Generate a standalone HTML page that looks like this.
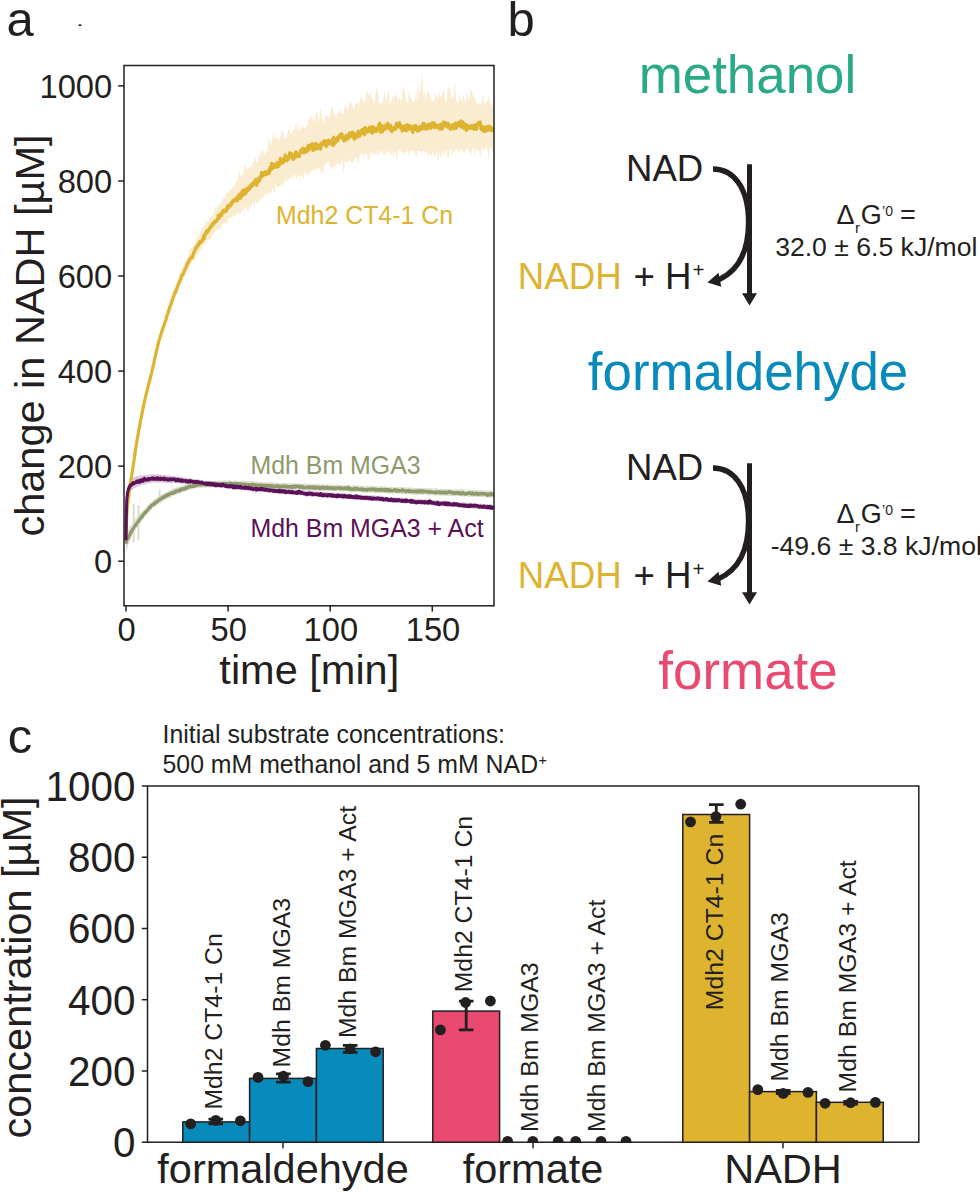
<!DOCTYPE html>
<html><head><meta charset="utf-8"><title>figure</title>
<style>
html,body{margin:0;padding:0;background:#fff;}
svg{display:block;font-family:"Liberation Sans",sans-serif;}
</style></head><body>
<svg width="980" height="1193" viewBox="0 0 980 1193">
<rect width="980" height="1193" fill="#fff"/>
<clipPath id="ca"><rect x="124.0" y="65.5" width="370.0" height="540.3"/></clipPath>
<g clip-path="url(#ca)">
<polygon points="126.0,540.4 126.6,518.8 127.2,507.8 127.8,500.2 128.5,495.6 129.1,490.7 129.7,487.7 130.3,481.4 130.9,478.4 131.5,474.2 132.1,470.5 133.3,462.7 134.5,454.8 135.8,445.6 137.0,439.1 138.2,431.1 139.4,423.4 140.6,418.0 141.8,409.8 143.0,404.6 144.2,398.1 145.4,394.9 146.6,388.3 147.8,384.5 149.0,379.7 150.3,374.7 151.5,366.6 152.7,364.2 153.9,359.5 155.1,354.0 156.3,346.6 157.5,342.6 158.7,336.9 159.9,332.7 161.1,328.5 162.3,325.2 163.6,322.6 164.8,317.3 166.0,313.9 167.2,310.8 168.4,307.0 169.6,303.5 170.8,297.9 172.0,296.5 173.2,290.6 174.4,286.9 175.6,284.9 176.9,283.1 178.1,278.9 179.3,273.0 180.5,272.5 181.7,268.5 182.9,268.0 184.1,264.0 185.3,262.1 186.5,258.3 187.7,257.1 188.9,253.1 190.1,248.8 191.4,248.3 192.6,247.2 193.8,244.3 195.0,243.1 196.2,238.0 197.4,237.6 198.6,236.7 199.8,232.6 201.0,229.9 202.2,227.4 203.4,227.1 204.7,225.7 205.9,219.5 207.1,222.6 208.3,222.1 209.5,216.4 210.7,216.6 211.9,216.0 213.1,213.9 214.3,212.4 215.5,205.6 216.7,207.9 218.0,206.5 219.2,204.5 220.4,203.7 221.6,201.6 222.8,195.9 224.0,199.5 225.2,196.1 226.4,191.3 227.6,192.3 228.8,193.9 230.0,189.5 231.2,189.8 232.5,184.9 233.7,188.8 234.9,184.6 236.1,179.6 237.3,182.9 238.5,174.1 239.7,170.4 240.9,178.5 242.1,173.4 243.3,176.2 244.5,161.9 245.8,169.0 247.0,168.7 248.2,170.0 249.4,166.7 250.6,167.6 251.8,166.1 253.0,161.4 254.2,161.5 255.4,156.6 256.6,162.2 257.8,161.4 259.1,152.7 260.3,157.4 261.5,151.7 262.7,149.6 263.9,154.5 265.1,154.3 266.3,149.4 267.5,152.0 268.7,136.4 269.9,142.1 271.1,147.0 272.3,132.3 273.6,141.3 274.8,133.3 276.0,140.1 277.2,138.5 278.4,138.2 279.6,142.4 280.8,130.5 282.0,132.0 283.2,129.6 284.4,139.7 285.6,137.3 286.9,137.5 288.1,130.3 289.3,128.6 290.5,132.4 291.7,135.7 292.9,129.1 294.1,129.9 295.3,124.0 296.5,123.6 297.7,131.9 298.9,124.8 300.2,132.0 301.4,125.9 302.6,128.3 303.8,125.8 305.0,129.7 306.2,126.1 307.4,126.1 308.6,116.6 309.8,120.7 311.0,113.1 312.2,120.6 313.4,116.9 314.7,122.3 315.9,112.9 317.1,112.0 318.3,121.9 319.5,117.9 320.7,108.0 321.9,116.2 323.1,121.8 324.3,121.0 325.5,114.8 326.7,116.9 328.0,115.8 329.2,118.7 330.4,110.0 331.6,108.6 332.8,107.1 334.0,113.8 335.2,115.1 336.4,116.9 337.6,112.9 338.8,111.8 340.0,110.3 341.3,112.7 342.5,113.6 343.7,114.3 344.9,103.8 346.1,107.8 347.3,110.0 348.5,108.1 349.7,100.5 350.9,104.0 352.1,103.4 353.3,110.4 354.5,106.5 355.8,104.0 357.0,103.1 358.2,101.9 359.4,105.7 360.6,95.7 361.8,97.7 363.0,100.7 364.2,103.7 365.4,99.8 366.6,90.3 367.8,93.5 369.1,96.3 370.3,91.0 371.5,98.7 372.7,96.6 373.9,105.5 375.1,97.7 376.3,90.1 377.5,85.6 378.7,102.5 379.9,104.3 381.1,102.4 382.3,104.2 383.6,96.5 384.8,90.4 386.0,102.8 387.2,95.3 388.4,88.9 389.6,99.4 390.8,103.5 392.0,100.2 393.2,94.8 394.4,97.8 395.6,94.5 396.9,95.5 398.1,101.9 399.3,96.3 400.5,100.3 401.7,100.4 402.9,84.4 404.1,90.3 405.3,94.9 406.5,102.4 407.7,103.0 408.9,89.3 410.2,98.6 411.4,95.8 412.6,101.9 413.8,101.8 415.0,99.7 416.2,91.4 417.4,102.1 418.6,81.2 419.8,95.5 421.0,83.2 422.2,70.8 423.4,96.8 424.7,89.0 425.9,101.2 427.1,90.4 428.3,92.5 429.5,90.7 430.7,100.0 431.9,101.0 433.1,101.0 434.3,101.2 435.5,94.0 436.7,96.5 438.0,99.8 439.2,92.0 440.4,97.1 441.6,95.6 442.8,91.8 444.0,90.3 445.2,101.0 446.4,102.3 447.6,90.1 448.8,86.5 450.0,89.1 451.3,98.4 452.5,95.6 453.7,99.3 454.9,79.0 456.1,100.7 457.3,102.5 458.5,102.4 459.7,93.5 460.9,100.9 462.1,101.8 463.3,92.8 464.5,100.6 465.8,103.7 467.0,90.4 468.2,99.1 469.4,100.8 470.6,88.5 471.8,90.9 473.0,96.3 474.2,96.9 475.4,99.2 476.6,104.1 477.8,103.4 479.1,103.2 480.3,103.8 481.5,105.2 482.7,93.3 483.9,101.4 485.1,105.6 486.3,101.5 487.5,101.3 488.7,93.7 489.9,102.6 491.1,106.3 492.4,104.3 493.6,98.5 493.6,153.7 492.4,149.0 491.1,148.5 489.9,146.6 488.7,159.3 487.5,149.8 486.3,146.3 485.1,149.2 483.9,148.2 482.7,150.8 481.5,148.1 480.3,157.8 479.1,151.0 477.8,149.7 476.6,148.7 475.4,155.5 474.2,148.5 473.0,147.3 471.8,150.1 470.6,155.8 469.4,152.6 468.2,149.3 467.0,149.1 465.8,149.7 464.5,153.4 463.3,150.9 462.1,151.8 460.9,148.2 459.7,152.1 458.5,153.4 457.3,148.6 456.1,150.2 454.9,150.5 453.7,152.0 452.5,155.2 451.3,149.6 450.0,148.9 448.8,157.3 447.6,158.2 446.4,150.0 445.2,150.6 444.0,155.8 442.8,152.2 441.6,156.0 440.4,157.2 439.2,150.9 438.0,163.3 436.7,149.8 435.5,154.4 434.3,158.0 433.1,150.4 431.9,155.0 430.7,155.9 429.5,152.2 428.3,157.8 427.1,150.3 425.9,151.6 424.7,152.8 423.4,150.6 422.2,152.9 421.0,151.4 419.8,150.8 418.6,150.7 417.4,152.0 416.2,158.9 415.0,152.6 413.8,152.0 412.6,150.3 411.4,150.4 410.2,151.0 408.9,156.5 407.7,150.3 406.5,152.9 405.3,151.4 404.1,155.4 402.9,152.0 401.7,152.4 400.5,150.9 399.3,150.9 398.1,150.5 396.9,161.7 395.6,151.7 394.4,153.5 393.2,157.6 392.0,150.4 390.8,157.7 389.6,150.1 388.4,151.4 387.2,153.1 386.0,151.4 384.8,155.4 383.6,154.2 382.3,151.2 381.1,151.6 379.9,150.9 378.7,153.7 377.5,156.2 376.3,150.9 375.1,154.9 373.9,154.3 372.7,151.5 371.5,155.6 370.3,152.3 369.1,162.0 367.8,159.0 366.6,152.4 365.4,152.9 364.2,158.9 363.0,153.6 361.8,153.9 360.6,153.9 359.4,156.2 358.2,164.6 357.0,159.3 355.8,157.1 354.5,159.6 353.3,162.9 352.1,161.0 350.9,164.0 349.7,157.8 348.5,162.2 347.3,162.3 346.1,162.7 344.9,160.1 343.7,172.4 342.5,165.3 341.3,160.2 340.0,165.9 338.8,164.0 337.6,163.6 336.4,163.6 335.2,167.0 334.0,165.7 332.8,168.9 331.6,166.6 330.4,171.4 329.2,162.2 328.0,163.1 326.7,162.8 325.5,164.2 324.3,164.9 323.1,173.0 321.9,173.1 320.7,170.3 319.5,169.4 318.3,167.0 317.1,169.0 315.9,168.5 314.7,169.7 313.4,170.5 312.2,168.9 311.0,173.1 309.8,171.7 308.6,173.9 307.4,176.6 306.2,175.1 305.0,170.4 303.8,179.5 302.6,176.5 301.4,174.8 300.2,180.5 298.9,172.8 297.7,177.5 296.5,178.3 295.3,174.4 294.1,175.1 292.9,180.4 291.7,175.9 290.5,179.1 289.3,177.6 288.1,180.2 286.9,181.7 285.6,179.8 284.4,181.2 283.2,183.8 282.0,187.9 280.8,184.0 279.6,186.3 278.4,187.6 277.2,186.9 276.0,184.6 274.8,192.6 273.6,190.4 272.3,187.4 271.1,194.1 269.9,193.8 268.7,191.4 267.5,194.8 266.3,194.4 265.1,193.1 263.9,195.9 262.7,197.0 261.5,200.2 260.3,197.7 259.1,201.7 257.8,203.2 256.6,202.7 255.4,200.8 254.2,207.0 253.0,201.4 251.8,204.2 250.6,208.8 249.4,203.9 248.2,214.0 247.0,209.0 245.8,206.5 244.5,207.6 243.3,211.8 242.1,209.8 240.9,213.1 239.7,215.6 238.5,211.6 237.3,213.4 236.1,214.6 234.9,216.4 233.7,214.4 232.5,217.8 231.2,216.9 230.0,217.9 228.8,218.3 227.6,221.1 226.4,224.8 225.2,223.8 224.0,222.8 222.8,223.9 221.6,226.6 220.4,229.4 219.2,230.1 218.0,228.9 216.7,230.2 215.5,230.9 214.3,233.0 213.1,234.2 211.9,236.8 210.7,238.1 209.5,239.6 208.3,241.1 207.1,240.5 205.9,244.0 204.7,243.6 203.4,244.9 202.2,248.5 201.0,249.4 199.8,250.1 198.6,255.3 197.4,254.2 196.2,256.0 195.0,257.3 193.8,261.3 192.6,260.7 191.4,263.5 190.1,265.8 188.9,268.7 187.7,271.6 186.5,271.7 185.3,276.0 184.1,276.4 182.9,279.7 181.7,284.1 180.5,285.1 179.3,287.5 178.1,290.5 176.9,293.2 175.6,296.5 174.4,299.6 173.2,302.7 172.0,305.9 170.8,309.2 169.6,312.8 168.4,316.6 167.2,320.2 166.0,323.8 164.8,328.0 163.6,330.4 162.3,335.2 161.1,337.9 159.9,341.1 158.7,346.8 157.5,350.4 156.3,355.3 155.1,361.6 153.9,366.6 152.7,371.5 151.5,376.7 150.3,381.4 149.0,386.2 147.8,390.3 146.6,395.7 145.4,400.1 144.2,405.4 143.0,412.3 141.8,416.9 140.6,423.4 139.4,429.0 138.2,435.7 137.0,443.1 135.8,450.3 134.5,459.2 133.3,466.4 132.1,474.4 131.5,478.3 130.9,482.2 130.3,485.7 129.7,491.3 129.1,494.2 128.5,498.5 127.8,503.5 127.2,510.3 126.6,521.6 126.0,542.1" fill="#FAECD1" opacity="1"/>
<polygon points="126.0,533.5 126.6,533.0 127.2,531.9 127.8,530.3 128.5,529.4 129.1,528.8 129.7,527.1 130.3,525.4 130.9,525.9 131.5,525.1 132.1,524.2 133.3,521.7 134.5,520.8 135.8,518.3 137.0,517.1 138.2,516.1 139.4,514.7 140.6,513.1 141.8,511.6 143.0,510.2 144.2,509.2 145.4,508.3 146.6,506.9 147.8,505.2 149.0,504.1 150.3,503.1 151.5,502.0 152.7,500.9 153.9,499.7 155.1,499.1 156.3,497.9 157.5,497.1 158.7,496.3 159.9,495.8 161.1,494.9 162.3,494.2 163.6,493.7 164.8,492.8 166.0,492.4 167.2,491.7 168.4,490.9 169.6,490.4 170.8,490.0 172.0,489.1 173.2,488.2 174.4,487.8 175.6,488.1 176.9,487.6 178.1,486.7 179.3,486.8 180.5,486.1 181.7,486.0 182.9,485.5 184.1,485.0 185.3,484.3 186.5,484.0 187.7,484.0 188.9,483.6 190.1,483.5 191.4,483.1 192.6,482.7 193.8,482.5 195.0,482.2 196.2,481.8 197.4,481.9 198.6,481.5 199.8,481.4 201.0,481.7 202.2,481.4 203.4,481.5 204.7,481.5 205.9,481.3 207.1,480.9 208.3,481.0 209.5,481.2 210.7,480.4 211.9,480.9 213.1,481.2 214.3,480.9 215.5,480.3 216.7,481.0 218.0,480.9 219.2,480.6 220.4,480.8 221.6,480.7 222.8,480.8 224.0,480.2 225.2,480.3 226.4,480.7 227.6,480.6 228.8,480.1 230.0,480.6 231.2,480.8 232.5,480.7 233.7,480.7 234.9,480.8 236.1,480.3 237.3,480.9 238.5,480.8 239.7,481.0 240.9,480.9 242.1,481.0 243.3,480.3 244.5,480.8 245.8,481.2 247.0,481.0 248.2,480.7 249.4,481.5 250.6,480.9 251.8,481.3 253.0,481.3 254.2,481.6 255.4,481.8 256.6,481.2 257.8,481.9 259.1,481.5 260.3,482.0 261.5,482.2 262.7,482.2 263.9,482.3 265.1,482.2 266.3,482.3 267.5,481.9 268.7,482.6 269.9,482.0 271.1,482.0 272.3,482.3 273.6,482.6 274.8,482.7 276.0,482.5 277.2,483.0 278.4,483.1 279.6,483.1 280.8,483.2 282.0,483.1 283.2,483.3 284.4,482.9 285.6,483.2 286.9,482.6 288.1,483.4 289.3,483.4 290.5,483.4 291.7,483.3 292.9,483.2 294.1,483.6 295.3,483.4 296.5,483.7 297.7,483.8 298.9,483.2 300.2,483.6 301.4,483.9 302.6,483.8 303.8,483.4 305.0,483.3 306.2,483.8 307.4,483.9 308.6,483.9 309.8,484.0 311.0,483.7 312.2,483.7 313.4,484.0 314.7,484.2 315.9,484.1 317.1,484.2 318.3,484.1 319.5,483.7 320.7,484.4 321.9,484.0 323.1,484.4 324.3,484.5 325.5,484.6 326.7,484.1 328.0,484.7 329.2,484.2 330.4,484.6 331.6,484.5 332.8,484.5 334.0,484.8 335.2,484.8 336.4,484.3 337.6,484.8 338.8,485.1 340.0,485.0 341.3,485.2 342.5,485.0 343.7,485.3 344.9,484.9 346.1,485.2 347.3,485.3 348.5,485.3 349.7,485.0 350.9,485.5 352.1,485.5 353.3,485.6 354.5,485.2 355.8,485.1 357.0,485.7 358.2,485.4 359.4,485.2 360.6,485.8 361.8,485.9 363.0,485.7 364.2,486.0 365.4,485.9 366.6,485.9 367.8,485.9 369.1,486.2 370.3,485.9 371.5,485.4 372.7,486.0 373.9,486.3 375.1,486.2 376.3,486.2 377.5,486.1 378.7,486.4 379.9,486.7 381.1,486.4 382.3,486.4 383.6,486.6 384.8,486.1 386.0,486.4 387.2,486.8 388.4,487.0 389.6,487.0 390.8,486.4 392.0,487.0 393.2,486.9 394.4,487.0 395.6,487.3 396.9,487.0 398.1,487.2 399.3,487.2 400.5,487.0 401.7,487.2 402.9,487.0 404.1,487.5 405.3,487.2 406.5,487.5 407.7,487.4 408.9,487.6 410.2,487.8 411.4,487.0 412.6,487.7 413.8,487.8 415.0,488.0 416.2,488.0 417.4,487.7 418.6,488.0 419.8,487.6 421.0,488.2 422.2,488.3 423.4,488.3 424.7,487.9 425.9,488.3 427.1,488.2 428.3,488.1 429.5,488.3 430.7,487.8 431.9,488.4 433.1,488.6 434.3,488.7 435.5,488.1 436.7,488.5 438.0,488.9 439.2,488.8 440.4,488.7 441.6,488.9 442.8,489.0 444.0,489.0 445.2,489.1 446.4,489.2 447.6,488.8 448.8,489.3 450.0,489.0 451.3,489.0 452.5,489.4 453.7,489.3 454.9,489.1 456.1,489.5 457.3,489.2 458.5,489.3 459.7,488.9 460.9,489.0 462.1,489.7 463.3,489.6 464.5,489.9 465.8,489.9 467.0,489.4 468.2,489.5 469.4,489.7 470.6,490.1 471.8,489.7 473.0,490.2 474.2,490.0 475.4,490.2 476.6,490.1 477.8,490.4 479.1,490.3 480.3,490.3 481.5,489.7 482.7,490.3 483.9,490.4 485.1,490.6 486.3,490.7 487.5,490.4 488.7,490.6 489.9,490.6 491.1,490.8 492.4,490.5 493.6,490.5 493.6,497.7 492.4,497.6 491.1,497.5 489.9,497.8 488.7,497.5 487.5,497.6 486.3,497.5 485.1,497.5 483.9,497.5 482.7,497.3 481.5,497.1 480.3,497.1 479.1,497.1 477.8,497.0 476.6,497.2 475.4,497.0 474.2,497.1 473.0,496.8 471.8,497.0 470.6,496.9 469.4,496.9 468.2,496.7 467.0,496.8 465.8,496.5 464.5,496.8 463.3,496.5 462.1,496.4 460.9,496.3 459.7,496.4 458.5,496.2 457.3,496.1 456.1,496.3 454.9,496.2 453.7,496.0 452.5,496.1 451.3,496.3 450.0,495.9 448.8,495.9 447.6,495.8 446.4,496.0 445.2,495.8 444.0,495.6 442.8,495.6 441.6,495.8 440.4,495.7 439.2,495.6 438.0,495.5 436.7,495.4 435.5,495.4 434.3,495.3 433.1,495.2 431.9,495.2 430.7,495.2 429.5,495.0 428.3,495.4 427.1,494.9 425.9,494.8 424.7,494.8 423.4,494.9 422.2,494.8 421.0,494.7 419.8,494.7 418.6,495.0 417.4,494.9 416.2,494.7 415.0,494.8 413.8,494.4 412.6,494.4 411.4,494.4 410.2,494.2 408.9,494.2 407.7,494.3 406.5,494.0 405.3,494.1 404.1,494.2 402.9,494.3 401.7,494.0 400.5,493.9 399.3,494.0 398.1,493.8 396.9,493.7 395.6,493.6 394.4,493.7 393.2,494.0 392.0,493.5 390.8,493.4 389.6,493.5 388.4,493.3 387.2,493.5 386.0,493.3 384.8,493.3 383.6,493.2 382.3,493.1 381.1,493.3 379.9,493.5 378.7,493.1 377.5,492.8 376.3,492.8 375.1,493.1 373.9,492.8 372.7,492.9 371.5,492.7 370.3,492.8 369.1,492.5 367.8,492.9 366.6,492.5 365.4,492.8 364.2,492.4 363.0,492.5 361.8,492.3 360.6,492.1 359.4,492.2 358.2,492.1 357.0,492.1 355.8,491.9 354.5,492.2 353.3,492.1 352.1,491.9 350.9,491.8 349.7,491.7 348.5,491.6 347.3,491.7 346.1,491.6 344.9,491.6 343.7,491.7 342.5,491.4 341.3,491.5 340.0,491.3 338.8,491.5 337.6,491.3 336.4,491.3 335.2,491.3 334.0,491.2 332.8,491.1 331.6,491.1 330.4,491.0 329.2,491.0 328.0,491.0 326.7,491.4 325.5,490.8 324.3,491.1 323.1,491.2 321.9,491.1 320.7,490.8 319.5,490.6 318.3,490.7 317.1,490.6 315.9,490.6 314.7,490.4 313.4,490.4 312.2,490.5 311.0,490.3 309.8,490.7 308.6,490.4 307.4,490.2 306.2,490.2 305.0,490.1 303.8,490.1 302.6,490.0 301.4,490.2 300.2,490.4 298.9,490.2 297.7,490.2 296.5,489.8 295.3,489.9 294.1,489.8 292.9,489.9 291.7,489.8 290.5,489.8 289.3,489.8 288.1,489.9 286.9,489.5 285.6,489.5 284.4,489.5 283.2,489.8 282.0,489.4 280.8,489.5 279.6,489.4 278.4,489.2 277.2,489.2 276.0,489.2 274.8,489.1 273.6,489.0 272.3,489.0 271.1,488.8 269.9,488.9 268.7,488.8 267.5,488.8 266.3,489.0 265.1,488.4 263.9,488.6 262.7,488.3 261.5,488.3 260.3,488.1 259.1,488.2 257.8,488.0 256.6,488.3 255.4,488.1 254.2,487.7 253.0,487.8 251.8,487.6 250.6,487.6 249.4,487.6 248.2,487.4 247.0,487.3 245.8,487.6 244.5,487.3 243.3,487.1 242.1,487.1 240.9,487.0 239.7,487.2 238.5,487.0 237.3,487.1 236.1,487.2 234.9,487.0 233.7,487.2 232.5,487.0 231.2,487.1 230.0,487.0 228.8,486.8 227.6,486.8 226.4,486.9 225.2,486.9 224.0,486.8 222.8,487.2 221.6,486.8 220.4,487.2 219.2,486.9 218.0,486.8 216.7,486.9 215.5,487.0 214.3,487.0 213.1,487.1 211.9,487.2 210.7,487.5 209.5,487.2 208.3,487.6 207.1,487.3 205.9,487.4 204.7,487.5 203.4,487.7 202.2,487.7 201.0,487.8 199.8,488.0 198.6,488.1 197.4,488.0 196.2,488.3 195.0,488.5 193.8,488.8 192.6,489.3 191.4,489.5 190.1,489.8 188.9,490.1 187.7,490.7 186.5,490.9 185.3,491.5 184.1,491.8 182.9,492.1 181.7,492.9 180.5,493.1 179.3,493.5 178.1,493.9 176.9,494.5 175.6,494.8 174.4,495.5 173.2,496.0 172.0,496.5 170.8,497.4 169.6,497.7 168.4,498.1 167.2,498.8 166.0,499.5 164.8,500.0 163.6,500.9 162.3,501.6 161.1,502.4 159.9,503.2 158.7,504.2 157.5,505.0 156.3,505.9 155.1,506.4 153.9,507.5 152.7,508.5 151.5,510.0 150.3,510.8 149.0,512.2 147.8,513.4 146.6,514.7 145.4,516.4 144.2,517.8 143.0,519.4 141.8,520.9 140.6,522.6 139.4,524.4 138.2,526.2 137.0,527.8 135.8,529.8 134.5,531.9 133.3,534.0 132.1,536.0 131.5,537.3 130.9,539.0 130.3,540.3 129.7,541.4 129.1,543.4 128.5,544.3 127.8,546.6 127.2,548.2 126.6,549.6 126.0,551.7" fill="#DDE0D2" opacity="1"/>
<line x1="133.6" y1="542.2" x2="133.6" y2="503.7" stroke="#D5D9C6" stroke-width="1.8"/>
<line x1="138.5" y1="539.8" x2="138.5" y2="505.1" stroke="#D5D9C6" stroke-width="1.8"/>
<line x1="159.7" y1="501.8" x2="159.7" y2="489.9" stroke="#D5D9C6" stroke-width="1.8"/>
<polygon points="126.0,534.8 126.6,500.0 127.2,489.7 127.8,485.5 128.5,483.2 129.1,481.6 129.7,480.1 130.3,479.2 130.9,479.0 131.5,477.5 132.1,478.0 133.3,477.5 134.5,476.8 135.8,476.9 137.0,476.1 138.2,476.2 139.4,475.7 140.6,475.1 141.8,475.6 143.0,475.2 144.2,475.5 145.4,475.3 146.6,475.1 147.8,474.9 149.0,474.8 150.3,474.5 151.5,474.6 152.7,474.3 153.9,474.3 155.1,474.4 156.3,474.6 157.5,473.7 158.7,474.5 159.9,474.4 161.1,474.9 162.3,475.0 163.6,475.0 164.8,475.0 166.0,475.0 167.2,475.4 168.4,475.5 169.6,475.6 170.8,475.8 172.0,475.9 173.2,475.8 174.4,476.2 175.6,476.2 176.9,476.2 178.1,476.8 179.3,476.5 180.5,476.8 181.7,476.9 182.9,477.0 184.1,477.4 185.3,477.4 186.5,477.8 187.7,477.7 188.9,478.0 190.1,478.5 191.4,478.6 192.6,478.9 193.8,479.0 195.0,479.1 196.2,479.4 197.4,479.2 198.6,479.3 199.8,479.9 201.0,479.9 202.2,480.3 203.4,480.3 204.7,480.8 205.9,480.7 207.1,480.7 208.3,481.0 209.5,481.3 210.7,481.4 211.9,481.7 213.1,481.2 214.3,481.8 215.5,482.1 216.7,481.9 218.0,482.4 219.2,482.5 220.4,482.3 221.6,482.5 222.8,482.5 224.0,483.1 225.2,483.2 226.4,482.9 227.6,483.3 228.8,482.9 230.0,483.6 231.2,483.5 232.5,483.9 233.7,483.9 234.9,483.9 236.1,484.0 237.3,484.4 238.5,484.6 239.7,484.5 240.9,484.8 242.1,484.9 243.3,484.9 244.5,484.9 245.8,485.3 247.0,485.3 248.2,485.2 249.4,485.3 250.6,485.7 251.8,485.4 253.0,485.7 254.2,485.7 255.4,486.2 256.6,486.3 257.8,485.9 259.1,486.2 260.3,486.5 261.5,486.6 262.7,486.9 263.9,487.0 265.1,486.7 266.3,487.2 267.5,487.1 268.7,487.1 269.9,487.5 271.1,487.6 272.3,487.4 273.6,487.7 274.8,487.9 276.0,488.0 277.2,488.1 278.4,488.2 279.6,488.3 280.8,488.1 282.0,488.6 283.2,488.7 284.4,488.8 285.6,488.4 286.9,489.0 288.1,489.0 289.3,488.9 290.5,488.8 291.7,488.8 292.9,489.3 294.1,489.5 295.3,489.5 296.5,489.7 297.7,490.0 298.9,489.8 300.2,490.1 301.4,490.2 302.6,489.8 303.8,489.8 305.0,490.5 306.2,490.3 307.4,490.6 308.6,490.6 309.8,490.6 311.0,490.7 312.2,491.3 313.4,491.0 314.7,491.4 315.9,490.9 317.1,491.2 318.3,491.7 319.5,491.6 320.7,491.9 321.9,492.0 323.1,491.6 324.3,491.9 325.5,492.3 326.7,492.1 328.0,492.3 329.2,492.5 330.4,492.4 331.6,492.4 332.8,492.8 334.0,492.6 335.2,493.0 336.4,492.7 337.6,493.0 338.8,493.3 340.0,493.2 341.3,493.2 342.5,493.3 343.7,493.3 344.9,493.1 346.1,493.7 347.3,493.8 348.5,493.9 349.7,494.0 350.9,494.0 352.1,494.2 353.3,494.3 354.5,494.3 355.8,494.4 357.0,494.6 358.2,494.3 359.4,494.7 360.6,494.5 361.8,495.0 363.0,494.8 364.2,495.2 365.4,495.2 366.6,495.0 367.8,495.2 369.1,495.3 370.3,495.4 371.5,495.3 372.7,495.6 373.9,495.8 375.1,495.6 376.3,495.7 377.5,495.8 378.7,496.1 379.9,495.6 381.1,495.7 382.3,496.1 383.6,496.4 384.8,496.7 386.0,496.8 387.2,496.9 388.4,496.6 389.6,496.9 390.8,497.1 392.0,497.2 393.2,497.0 394.4,497.4 395.6,496.9 396.9,497.4 398.1,497.7 399.3,497.3 400.5,497.6 401.7,497.6 402.9,497.8 404.1,498.0 405.3,498.3 406.5,498.1 407.7,498.4 408.9,498.4 410.2,498.5 411.4,498.5 412.6,498.6 413.8,498.7 415.0,498.7 416.2,499.0 417.4,499.2 418.6,499.0 419.8,498.6 421.0,499.2 422.2,499.5 423.4,499.6 424.7,499.5 425.9,499.6 427.1,499.6 428.3,499.9 429.5,500.0 430.7,500.0 431.9,500.2 433.1,500.3 434.3,500.1 435.5,500.1 436.7,500.5 438.0,500.2 439.2,500.6 440.4,500.5 441.6,500.9 442.8,500.9 444.0,500.4 445.2,500.9 446.4,501.0 447.6,501.0 448.8,501.4 450.0,501.4 451.3,501.4 452.5,501.6 453.7,501.8 454.9,501.8 456.1,501.9 457.3,502.0 458.5,502.3 459.7,502.3 460.9,502.4 462.1,502.2 463.3,502.1 464.5,502.4 465.8,502.6 467.0,502.8 468.2,503.0 469.4,503.0 470.6,503.1 471.8,502.8 473.0,503.2 474.2,502.7 475.4,503.1 476.6,503.4 477.8,503.7 479.1,503.9 480.3,503.6 481.5,503.7 482.7,504.1 483.9,503.8 485.1,504.3 486.3,504.3 487.5,504.5 488.7,504.5 489.9,504.3 491.1,504.6 492.4,504.7 493.6,504.7 493.6,510.0 492.4,509.9 491.1,509.8 489.9,509.7 488.7,509.7 487.5,509.6 486.3,509.6 485.1,509.3 483.9,509.4 482.7,509.2 481.5,509.2 480.3,509.1 479.1,508.9 477.8,509.0 476.6,508.8 475.4,508.7 474.2,508.5 473.0,508.5 471.8,508.3 470.6,508.4 469.4,508.3 468.2,508.1 467.0,507.9 465.8,507.9 464.5,507.9 463.3,507.7 462.1,507.6 460.9,507.5 459.7,507.4 458.5,507.6 457.3,507.2 456.1,507.2 454.9,506.9 453.7,506.9 452.5,506.9 451.3,506.8 450.0,506.8 448.8,506.7 447.6,506.6 446.4,506.4 445.2,506.3 444.0,506.2 442.8,506.4 441.6,505.9 440.4,505.9 439.2,506.1 438.0,505.7 436.7,505.7 435.5,505.7 434.3,505.5 433.1,505.5 431.9,505.3 430.7,505.3 429.5,505.0 428.3,505.0 427.1,505.0 425.9,505.1 424.7,504.9 423.4,504.6 422.2,504.6 421.0,504.6 419.8,504.5 418.6,504.3 417.4,504.5 416.2,504.1 415.0,504.0 413.8,504.0 412.6,504.0 411.4,503.9 410.2,503.6 408.9,503.6 407.7,503.6 406.5,503.7 405.3,503.4 404.1,503.3 402.9,503.2 401.7,503.0 400.5,503.0 399.3,502.8 398.1,502.8 396.9,502.6 395.6,502.8 394.4,502.5 393.2,502.5 392.0,502.2 390.8,502.2 389.6,502.2 388.4,502.0 387.2,502.0 386.0,501.8 384.8,501.8 383.6,501.7 382.3,501.6 381.1,501.6 379.9,501.4 378.7,501.4 377.5,501.2 376.3,501.3 375.1,501.1 373.9,501.0 372.7,500.8 371.5,501.1 370.3,500.7 369.1,500.7 367.8,500.6 366.6,500.6 365.4,500.3 364.2,500.3 363.0,500.2 361.8,500.1 360.6,500.1 359.4,500.0 358.2,500.0 357.0,499.7 355.8,499.8 354.5,499.6 353.3,499.5 352.1,499.3 350.9,499.3 349.7,499.2 348.5,499.4 347.3,499.0 346.1,499.0 344.9,498.9 343.7,498.7 342.5,498.7 341.3,498.8 340.0,498.5 338.8,498.4 337.6,498.3 336.4,498.5 335.2,498.0 334.0,498.0 332.8,497.9 331.6,497.7 330.4,498.0 329.2,497.6 328.0,497.5 326.7,497.5 325.5,497.5 324.3,497.3 323.1,497.1 321.9,497.1 320.7,496.9 319.5,496.8 318.3,496.9 317.1,496.6 315.9,496.7 314.7,496.6 313.4,496.3 312.2,496.4 311.0,496.2 309.8,496.2 308.6,496.0 307.4,495.9 306.2,495.8 305.0,495.8 303.8,495.9 302.6,495.5 301.4,495.5 300.2,495.3 298.9,495.3 297.7,495.1 296.5,495.0 295.3,494.8 294.1,494.9 292.9,494.8 291.7,494.7 290.5,494.4 289.3,494.4 288.1,494.4 286.9,494.1 285.6,494.3 284.4,493.9 283.2,493.8 282.0,493.7 280.8,493.6 279.6,493.6 278.4,493.6 277.2,493.5 276.0,493.2 274.8,493.1 273.6,493.0 272.3,493.0 271.1,492.8 269.9,492.7 268.7,492.4 267.5,492.5 266.3,492.3 265.1,492.2 263.9,492.0 262.7,491.9 261.5,491.9 260.3,491.9 259.1,491.6 257.8,491.5 256.6,491.4 255.4,491.3 254.2,491.1 253.0,491.1 251.8,491.2 250.6,490.8 249.4,490.6 248.2,490.5 247.0,490.6 245.8,490.4 244.5,490.2 243.3,490.3 242.1,490.0 240.9,490.2 239.7,489.7 238.5,489.7 237.3,489.5 236.1,489.4 234.9,489.3 233.7,489.1 232.5,489.3 231.2,488.9 230.0,488.8 228.8,488.7 227.6,488.5 226.4,488.4 225.2,488.4 224.0,488.1 222.8,488.1 221.6,487.9 220.4,487.7 219.2,487.7 218.0,487.4 216.7,487.4 215.5,487.2 214.3,487.3 213.1,486.9 211.9,486.8 210.7,486.6 209.5,486.4 208.3,486.4 207.1,486.2 205.9,486.1 204.7,486.0 203.4,485.9 202.2,485.8 201.0,485.6 199.8,485.7 198.6,485.4 197.4,485.1 196.2,485.0 195.0,484.9 193.8,484.9 192.6,484.7 191.4,484.6 190.1,484.6 188.9,484.3 187.7,484.4 186.5,484.1 185.3,484.1 184.1,483.8 182.9,483.7 181.7,483.7 180.5,483.8 179.3,483.5 178.1,483.4 176.9,483.3 175.6,483.5 174.4,483.1 173.2,483.0 172.0,483.1 170.8,482.9 169.6,482.9 168.4,482.8 167.2,482.8 166.0,483.0 164.8,482.5 163.6,482.6 162.3,482.7 161.1,482.5 159.9,482.4 158.7,482.5 157.5,482.6 156.3,482.6 155.1,482.3 153.9,482.5 152.7,482.5 151.5,482.8 150.3,483.0 149.0,483.2 147.8,483.6 146.6,483.6 145.4,484.3 144.2,484.4 143.0,484.6 141.8,485.0 140.6,485.4 139.4,486.0 138.2,486.6 137.0,486.8 135.8,487.5 134.5,488.0 133.3,489.0 132.1,489.4 131.5,490.3 130.9,490.8 130.3,491.5 129.7,492.3 129.1,492.9 128.5,494.6 127.8,496.8 127.2,501.2 126.6,510.3 126.0,545.2" fill="#D9C6D8" opacity="1"/>
<polyline points="126.0,541.2 126.1,537.4 126.2,533.7 126.3,530.1 126.4,526.4 126.5,523.2 126.6,520.0 126.7,517.5 126.8,515.3 126.9,513.2 127.0,512.0 127.1,510.4 127.2,509.0 127.3,507.9 127.4,506.6 127.5,505.6 127.6,504.2 127.7,503.2 127.8,502.3 127.9,501.6 128.0,500.7 128.1,499.6 128.2,498.7 128.3,498.1 128.5,497.2 128.6,496.7 128.7,495.9 128.8,495.2 128.9,494.5 129.0,494.0 129.1,493.0 129.2,492.3 129.3,491.9 129.4,491.2 129.5,490.3 129.6,489.7 129.7,489.1 129.8,488.0 129.9,487.3 130.0,486.6 130.1,485.6 130.2,485.0 130.3,484.4 130.4,483.6 130.5,483.0 130.6,482.3 130.7,481.5 130.8,480.9 130.9,480.2 131.0,479.3 131.1,478.7 131.2,478.0 131.3,477.4 131.4,476.8 131.5,476.0 131.6,475.5 131.7,474.7 131.8,474.4 131.9,473.7 132.0,473.2 132.1,472.4 132.4,470.8 132.6,469.1 132.8,467.8 133.1,466.2 133.3,464.7 133.6,463.1 133.8,461.6 134.1,459.8 134.3,458.4 134.5,456.6 134.8,454.9 135.0,453.4 135.3,451.9 135.5,450.3 135.7,448.3 136.0,447.2 136.2,445.2 136.5,443.8 136.7,442.4 136.9,441.1 137.2,439.3 137.4,437.8 137.7,436.8 137.9,435.3 138.2,433.7 138.4,432.5 138.6,430.9 138.9,430.0 139.1,428.5 139.4,427.5 139.6,425.6 139.8,424.7 140.1,423.7 140.3,422.1 140.6,420.8 140.8,419.2 141.0,418.4 141.3,417.1 141.5,415.8 141.8,414.4 142.0,413.5 142.3,412.0 142.5,410.9 142.7,409.9 143.0,408.6 143.2,407.4 143.5,406.4 143.7,404.9 143.9,404.2 144.2,402.6 144.4,401.5 144.7,400.6 144.9,399.7 145.1,398.6 145.4,397.4 145.6,396.4 145.9,395.5 146.1,394.4 146.4,393.7 146.6,392.6 146.8,392.0 147.1,390.6 147.3,389.7 147.6,388.9 147.8,387.6 148.0,386.7 148.3,386.5 148.5,385.0 148.8,384.3 149.0,382.9 149.2,381.6 149.5,381.3 149.7,380.2 150.0,379.3 150.2,378.2 150.5,377.2 150.7,376.1 150.9,375.6 151.2,374.0 151.4,373.6 151.7,372.3 151.9,371.1 152.1,370.2 152.4,369.6 152.6,368.5 152.9,367.5 153.1,366.3 153.3,365.0 153.6,364.5 153.8,363.1 154.1,362.0 154.3,360.9 154.5,359.8 154.8,358.5 155.0,357.6 155.3,356.5 155.5,355.4 155.8,354.0 156.0,353.7 156.2,351.8 156.5,351.0 156.7,349.9 157.0,349.0 157.2,348.1 157.4,346.7 157.7,345.7 157.9,344.3 158.2,343.9 158.4,342.3 158.6,341.6 158.9,340.9 159.1,340.2 159.4,339.4 159.6,338.6 159.9,337.7 160.1,336.9 160.3,336.2 160.6,335.8 160.8,334.7 161.1,334.2 161.3,333.2 161.5,332.0 161.8,331.6 162.0,331.2 162.3,330.8 162.5,330.0 162.7,329.3 163.0,327.9 163.2,327.6 163.5,326.7 163.7,326.1 164.0,325.3 164.2,324.2 164.4,324.1 164.7,323.2 164.9,322.7 165.2,321.5 165.4,321.3 165.6,320.6 165.9,320.0 166.1,319.2 166.4,317.9 166.6,316.5 166.8,316.7 167.1,315.4 167.3,314.8 167.6,314.4 167.8,313.4 168.1,312.7 168.3,312.0 168.5,310.5 168.8,311.0 169.0,309.5 169.3,308.9 169.5,308.4 169.7,307.5 170.0,306.6 170.2,306.1 170.5,305.3 170.7,304.5 170.9,304.7 171.2,302.9 171.4,301.9 171.7,301.6 171.9,300.9 172.2,301.0 172.4,299.8 172.6,299.4 172.9,298.6 173.1,297.3 173.4,297.3 173.6,296.3 173.8,296.3 174.1,295.1 174.3,294.5 174.6,294.2 174.8,293.7 175.0,292.1 175.3,292.8 175.5,292.2 175.8,291.6 176.0,290.3 176.3,289.4 176.5,289.5 176.7,289.3 177.0,288.5 177.2,287.2 177.5,287.4 177.7,285.8 177.9,285.1 178.2,285.0 178.4,284.1 178.7,283.4 178.9,282.5 179.1,282.9 179.4,281.4 179.6,281.5 179.9,281.1 180.1,280.1 180.3,279.7 180.6,279.5 180.8,279.2 181.1,278.3 181.3,276.7 181.6,275.9 181.8,275.9 182.0,275.2 182.3,275.4 182.5,274.7 182.8,274.1 183.0,274.2 183.2,273.7 183.5,272.7 183.7,272.4 184.0,272.3 184.2,271.1 184.4,270.9 184.7,269.7 184.9,269.6 185.2,269.2 185.4,268.4 185.7,268.0 185.9,267.7 186.1,267.0 186.4,265.8 186.6,265.3 186.9,264.5 187.1,265.5 187.3,264.3 187.6,263.8 187.8,263.1 188.1,262.9 188.3,262.5 188.5,261.4 188.8,261.2 189.0,261.5 189.3,259.7 189.5,259.5 189.8,259.9 190.0,258.8 190.2,259.3 190.5,258.0 190.7,258.4 191.0,258.4 191.2,257.9 191.4,257.8 191.7,256.9 191.9,256.7 192.2,256.4 192.4,256.4 192.6,257.7 192.9,254.9 193.1,255.5 193.4,253.7 193.6,252.6 193.9,252.5 194.1,252.3 194.3,251.6 194.6,251.0 194.8,250.7 195.1,250.2 195.3,250.0 195.5,248.3 195.8,248.7 196.0,247.7 196.3,248.0 196.5,247.5 196.7,247.2 197.0,246.4 197.2,245.8 197.5,245.8 197.7,246.1 198.0,245.8 198.2,243.9 198.4,244.9 198.7,244.6 198.9,243.1 199.2,243.1 199.4,243.1 199.6,243.5 199.9,241.3 200.1,242.3 200.4,241.9 200.6,242.1 200.8,242.7 201.1,242.3 201.3,240.8 201.6,240.6 201.8,240.7 202.0,241.1 202.3,241.0 202.5,239.9 202.8,240.4 203.0,238.5 203.3,237.8 203.5,236.0 203.7,236.9 204.0,237.4 204.2,237.1 204.5,238.4 204.7,235.8 204.9,235.0 205.2,233.6 205.4,233.3 205.7,232.8 205.9,232.8 206.1,232.3 206.4,231.5 206.6,233.1 206.9,232.4 207.1,232.9 207.4,230.4 207.6,230.4 207.8,230.6 208.1,231.8 208.3,230.5 208.6,230.5 208.8,229.9 209.0,229.7 209.3,228.8 209.5,229.1 209.8,227.7 210.0,227.8 210.2,227.9 210.5,227.4 210.7,227.3 211.0,225.9 211.2,226.4 211.5,225.6 211.7,225.8 211.9,226.3 212.2,224.0 212.4,225.3 212.7,223.5 212.9,223.4 213.1,224.7 213.4,223.8 213.6,223.1 213.9,223.2 214.1,223.3 214.3,221.6 214.6,222.2 214.8,221.5 215.1,222.1 215.3,221.3 215.6,222.1 215.8,221.3 216.0,220.6 216.3,220.9 216.5,220.9 216.8,221.0 217.0,219.5 217.2,219.0 217.5,219.1 217.7,219.1 218.0,217.5 218.2,215.4 218.4,217.4 218.7,216.4 218.9,216.0 219.2,218.4 219.4,215.8 219.7,216.4 219.9,214.3 220.1,215.6 220.4,215.8 220.6,215.1 220.9,214.6 221.1,215.1 221.3,214.4 221.6,215.5 221.8,214.1 222.1,212.9 222.3,211.5 222.5,212.4 222.8,212.5 223.0,211.4 223.3,211.3 223.5,210.4 223.8,210.7 224.0,211.5 224.2,210.9 224.5,210.7 224.7,210.3 225.0,210.2 225.2,210.9 225.4,211.9 225.7,210.3 225.9,211.4 226.2,209.1 226.4,208.9 226.6,210.3 226.9,207.8 227.1,207.3 227.4,207.8 227.6,206.0 227.8,205.6 228.1,208.4 228.3,205.9 228.6,206.3 228.8,206.1 229.1,205.3 229.3,206.7 229.5,206.3 229.8,206.2 230.0,205.8 230.3,204.8 230.5,205.9 230.7,205.1 231.0,203.1 231.2,203.4 231.5,202.6 231.7,204.6 231.9,203.1 232.2,202.5 232.4,201.8 232.7,202.3 232.9,200.6 233.2,201.5 233.4,201.3 233.6,201.2 233.9,200.3 234.1,201.4 234.4,199.6 234.6,200.2 234.8,200.4 235.1,200.3 235.3,199.6 235.6,198.8 235.8,198.7 236.0,199.1 236.3,198.4 236.5,199.0 236.8,197.6 237.0,198.8 237.3,200.8 237.5,196.9 237.7,198.0 238.0,199.2 238.2,197.9 238.5,198.5 238.7,194.9 238.9,196.5 239.2,198.6 239.4,196.0 239.7,196.9 239.9,194.0 240.1,197.2 240.4,198.3 240.6,195.3 240.9,195.5 241.1,195.3 241.4,197.0 241.6,193.7 241.8,192.0 242.1,195.8 242.3,192.0 242.6,193.7 242.8,190.0 243.0,192.1 243.3,192.8 243.5,191.2 243.8,191.8 244.0,193.0 244.2,191.4 244.5,192.8 244.7,194.3 245.0,189.6 245.2,192.4 245.5,192.6 245.7,191.3 245.9,193.3 246.2,192.8 246.4,191.5 246.7,191.2 246.9,190.3 247.1,188.7 247.4,190.4 247.6,189.0 247.9,188.6 248.1,190.4 248.3,188.5 248.6,189.7 248.8,187.0 249.1,187.4 249.3,187.7 249.5,189.1 249.8,187.1 250.0,187.9 250.3,185.8 250.5,186.6 250.8,187.2 251.0,184.9 251.2,185.0 251.5,186.5 251.7,184.2 252.0,185.9 252.2,185.8 252.4,185.1 252.7,186.0 252.9,185.5 253.2,185.0 253.4,182.8 253.6,182.6 253.9,184.5 254.1,181.9 254.4,183.8 254.6,183.0 254.9,182.1 255.1,182.6 255.3,179.7 255.6,182.2 255.8,183.8 256.1,180.3 256.3,182.4 256.5,182.1 256.8,185.4 257.0,180.2 257.3,180.3 257.5,180.2 257.7,179.8 258.0,178.8 258.2,180.9 258.5,179.5 258.7,181.6 259.0,180.6 259.2,178.2 259.4,178.6 259.7,180.3 259.9,177.5 260.2,177.7 260.4,178.0 260.6,175.9 260.9,176.4 261.1,177.4 261.4,176.3 261.6,172.4 261.8,176.6 262.1,174.2 262.3,173.6 262.6,173.5 262.8,175.8 263.1,174.5 263.3,173.8 263.5,172.8 263.8,174.6 264.0,175.2 264.3,172.3 264.5,172.0 264.7,172.9 265.0,174.1 265.2,172.7 265.5,173.0 265.7,172.0 265.9,174.6 266.2,172.8 266.4,173.0 266.7,174.2 266.9,172.3 267.2,172.4 267.4,172.9 267.6,171.7 267.9,174.0 268.1,172.0 268.4,171.3 268.6,171.3 268.8,170.1 269.1,173.0 269.3,173.3 269.6,170.5 269.8,169.8 270.0,167.0 270.3,168.5 270.5,170.0 270.8,167.3 271.0,169.0 271.3,169.4 271.5,163.4 271.7,166.0 272.0,164.9 272.2,165.1 272.5,163.5 272.7,165.6 272.9,164.4 273.2,167.5 273.4,168.1 273.7,164.4 273.9,164.4 274.1,165.7 274.4,166.2 274.6,166.3 274.9,167.4 275.1,164.3 275.3,165.3 275.6,165.4 275.8,165.5 276.1,164.5 276.3,165.1 276.6,164.6 276.8,167.2 277.0,164.7 277.3,162.3 277.5,165.8 277.8,165.1 278.0,163.5 278.2,163.2 278.5,163.4 278.7,166.3 279.0,163.2 279.2,165.3 279.4,164.6 279.7,162.5 279.9,163.4 280.2,161.7 280.4,158.3 280.7,161.4 280.9,161.4 281.1,163.5 281.4,163.0 281.6,163.4 281.9,162.5 282.1,163.1 282.3,162.4 282.6,161.6 282.8,162.4 283.1,162.7 283.3,162.3 283.5,159.5 283.8,159.7 284.0,158.1 284.3,157.7 284.5,159.4 284.8,157.7 285.0,160.3 285.2,154.8 285.5,156.3 285.7,158.4 286.0,159.8 286.2,157.7 286.4,160.9 286.7,159.4 286.9,157.3 287.2,158.4 287.4,159.2 287.6,157.2 287.9,160.1 288.1,157.9 288.4,158.6 288.6,158.7 288.9,156.4 289.1,158.0 289.3,153.5 289.6,156.6 289.8,152.5 290.1,156.4 290.3,153.6 290.5,155.7 290.8,156.1 291.0,154.3 291.3,153.8 291.5,156.9 291.7,153.7 292.0,156.9 292.2,155.9 292.5,155.8 292.7,155.8 293.0,159.6 293.2,155.0 293.4,156.3 293.7,157.4 293.9,157.9 294.2,158.5 294.4,157.7 294.6,154.6 294.9,155.6 295.1,156.4 295.4,155.2 295.6,151.8 295.8,154.2 296.1,154.6 296.3,152.0 296.6,153.4 296.8,154.1 297.0,155.2 297.3,156.8 297.5,156.4 297.8,155.5 298.0,155.3 298.3,154.6 298.5,154.4 298.7,154.5 299.0,154.0 299.2,155.3 299.5,156.5 299.7,153.5 299.9,153.7 300.2,152.7 300.4,151.6 300.7,152.5 300.9,151.8 301.1,149.8 301.4,149.5 301.6,150.9 301.9,149.4 302.1,150.7 302.4,152.1 302.6,150.7 302.8,148.2 303.1,152.2 303.3,149.6 303.6,149.5 303.8,149.6 304.0,153.0 304.3,148.6 304.5,151.3 304.8,151.7 305.0,151.5 305.2,150.1 305.5,150.8 305.7,150.9 306.0,148.6 306.2,151.5 306.5,151.8 306.7,148.8 306.9,148.7 307.2,147.8 307.4,150.8 307.7,147.3 307.9,147.9 308.1,145.7 308.4,150.0 308.6,147.6 308.9,148.0 309.1,149.8 309.3,148.3 309.6,145.3 309.8,147.6 310.1,147.8 310.3,145.2 310.6,144.9 310.8,144.7 311.0,147.2 311.3,146.0 311.5,144.2 311.8,146.6 312.0,146.8 312.2,144.7 312.5,143.8 312.7,148.2 313.0,150.7 313.2,149.2 313.4,148.8 313.7,147.7 313.9,146.8 314.2,148.2 314.4,149.3 314.7,148.0 314.9,149.4 315.1,147.8 315.4,148.5 315.6,143.3 315.9,145.9 316.1,148.2 316.3,148.3 316.6,147.2 316.8,148.8 317.1,147.2 317.3,147.2 317.5,144.9 317.8,146.9 318.0,147.6 318.3,148.5 318.5,148.3 318.8,146.7 319.0,147.0 319.2,145.0 319.5,147.8 319.7,145.3 320.0,146.3 320.2,146.4 320.4,149.2 320.7,147.8 320.9,144.4 321.2,143.1 321.4,144.6 321.6,143.4 321.9,144.9 322.1,144.6 322.4,144.7 322.6,142.1 322.8,143.0 323.1,143.9 323.3,144.0 323.6,142.6 323.8,142.9 324.1,144.6 324.3,140.7 324.5,142.9 324.8,143.3 325.0,141.0 325.3,141.7 325.5,143.3 325.7,142.3 326.0,144.7 326.2,144.0 326.5,146.5 326.7,141.2 326.9,145.8 327.2,141.9 327.4,144.2 327.7,144.3 327.9,143.1 328.2,142.4 328.4,141.9 328.6,140.1 328.9,142.2 329.1,141.4 329.4,143.6 329.6,141.6 329.8,142.4 330.1,143.3 330.3,142.7 330.6,142.6 330.8,142.1 331.0,141.6 331.3,142.9 331.5,143.1 331.8,140.7 332.0,144.3 332.3,142.5 332.5,139.1 332.7,145.4 333.0,142.3 333.2,140.1 333.5,143.6 333.7,137.2 333.9,145.0 334.2,138.9 334.4,138.7 334.7,139.6 334.9,141.3 335.1,140.4 335.4,142.2 335.6,139.6 335.9,142.3 336.1,140.8 336.4,138.6 336.6,141.5 336.8,140.1 337.1,139.0 337.3,141.0 337.6,137.0 337.8,137.9 338.0,140.5 338.3,138.0 338.5,138.8 338.8,138.4 339.0,137.1 339.2,138.0 339.5,135.3 339.7,137.6 340.0,134.8 340.2,136.1 340.5,134.5 340.7,136.4 340.9,136.1 341.2,137.3 341.4,135.1 341.7,135.0 341.9,133.7 342.1,135.4 342.4,137.4 342.6,138.5 342.9,138.1 343.1,139.2 343.3,137.4 343.6,138.6 343.8,141.2 344.1,140.7 344.3,137.2 344.5,138.5 344.8,139.0 345.0,136.5 345.3,138.5 345.5,138.0 345.8,138.0 346.0,139.9 346.2,135.3 346.5,138.3 346.7,137.3 347.0,137.5 347.2,135.3 347.4,136.5 347.7,136.3 347.9,138.9 348.2,136.5 348.4,138.5 348.6,135.8 348.9,135.7 349.1,136.2 349.4,132.9 349.6,135.0 349.9,134.7 350.1,135.2 350.3,135.5 350.6,133.5 350.8,133.1 351.1,136.5 351.3,132.8 351.5,133.4 351.8,132.8 352.0,133.7 352.3,136.4 352.5,136.4 352.7,132.1 353.0,134.6 353.2,137.3 353.5,134.8 353.7,136.0 354.0,138.4 354.2,139.2 354.4,138.1 354.7,135.1 354.9,135.4 355.2,135.5 355.4,134.5 355.6,133.9 355.9,137.8 356.1,134.9 356.4,135.5 356.6,135.9 356.8,134.7 357.1,134.0 357.3,134.3 357.6,136.1 357.8,134.7 358.1,131.1 358.3,135.7 358.5,136.7 358.8,133.9 359.0,133.4 359.3,133.7 359.5,136.1 359.7,132.8 360.0,135.1 360.2,135.3 360.5,134.2 360.7,133.1 360.9,131.6 361.2,131.4 361.4,132.0 361.7,130.2 361.9,131.2 362.2,129.6 362.4,132.9 362.6,133.2 362.9,129.7 363.1,133.0 363.4,131.3 363.6,131.1 363.8,131.7 364.1,131.6 364.3,128.9 364.6,134.8 364.8,129.7 365.0,127.6 365.3,131.0 365.5,131.0 365.8,129.8 366.0,128.2 366.3,132.7 366.5,130.7 366.7,131.1 367.0,130.0 367.2,130.6 367.5,129.8 367.7,131.3 367.9,130.5 368.2,131.4 368.4,131.3 368.7,130.4 368.9,130.2 369.1,131.7 369.4,127.4 369.6,129.9 369.9,131.6 370.1,127.8 370.3,130.5 370.6,128.6 370.8,129.5 371.1,129.1 371.3,129.3 371.6,130.4 371.8,129.6 372.0,126.6 372.3,133.1 372.5,129.7 372.8,129.2 373.0,131.5 373.2,132.1 373.5,127.0 373.7,130.9 374.0,127.4 374.2,129.9 374.4,130.7 374.7,130.3 374.9,130.2 375.2,129.5 375.4,130.8 375.7,131.1 375.9,130.7 376.1,128.6 376.4,129.1 376.6,131.4 376.9,130.5 377.1,128.7 377.3,129.8 377.6,129.1 377.8,129.6 378.1,128.2 378.3,127.0 378.5,126.2 378.8,127.7 379.0,124.6 379.3,127.9 379.5,123.0 379.8,126.3 380.0,127.1 380.2,128.6 380.5,132.1 380.7,128.1 381.0,127.7 381.2,125.2 381.4,130.1 381.7,125.3 381.9,128.5 382.2,127.2 382.4,132.0 382.6,128.1 382.9,128.9 383.1,127.4 383.4,128.4 383.6,130.1 383.9,126.9 384.1,127.1 384.3,127.0 384.6,126.2 384.8,125.9 385.1,127.4 385.3,129.2 385.5,129.1 385.8,124.8 386.0,125.6 386.3,126.4 386.5,127.1 386.7,126.4 387.0,126.4 387.2,126.9 387.5,127.4 387.7,123.1 388.0,125.9 388.2,127.1 388.4,128.1 388.7,127.2 388.9,125.2 389.2,125.5 389.4,127.3 389.6,127.2 389.9,128.0 390.1,129.6 390.4,126.3 390.6,128.1 390.8,125.3 391.1,130.4 391.3,129.8 391.6,128.5 391.8,130.1 392.0,131.7 392.3,131.0 392.5,129.4 392.8,129.0 393.0,129.6 393.3,127.9 393.5,127.9 393.7,128.8 394.0,129.2 394.2,129.4 394.5,127.9 394.7,127.0 394.9,127.9 395.2,127.0 395.4,127.8 395.7,129.1 395.9,128.1 396.1,125.1 396.4,125.3 396.6,123.2 396.9,125.3 397.1,124.1 397.4,123.5 397.6,123.9 397.8,126.3 398.1,125.7 398.3,125.3 398.6,126.9 398.8,124.8 399.0,124.0 399.3,126.2 399.5,122.7 399.8,126.4 400.0,126.6 400.2,126.9 400.5,127.9 400.7,126.6 401.0,127.5 401.2,125.4 401.5,127.2 401.7,127.6 401.9,129.1 402.2,131.0 402.4,129.1 402.7,130.3 402.9,127.7 403.1,129.2 403.4,126.7 403.6,128.2 403.9,128.1 404.1,129.0 404.3,129.1 404.6,128.5 404.8,128.1 405.1,130.4 405.3,128.5 405.6,125.3 405.8,129.2 406.0,129.4 406.3,129.9 406.5,130.9 406.8,127.0 407.0,128.5 407.2,128.1 407.5,125.7 407.7,124.7 408.0,129.7 408.2,126.8 408.4,127.4 408.7,127.7 408.9,127.5 409.2,128.2 409.4,125.8 409.7,127.2 409.9,127.6 410.1,126.3 410.4,126.9 410.6,127.7 410.9,128.1 411.1,126.1 411.3,128.1 411.6,129.1 411.8,130.4 412.1,129.8 412.3,131.0 412.5,129.4 412.8,129.2 413.0,132.3 413.3,129.0 413.5,127.8 413.8,128.3 414.0,129.7 414.2,126.2 414.5,128.8 414.7,129.3 415.0,128.9 415.2,127.0 415.4,125.5 415.7,125.4 415.9,127.0 416.2,129.2 416.4,128.6 416.6,129.1 416.9,128.2 417.1,130.8 417.4,128.2 417.6,127.6 417.8,128.9 418.1,128.1 418.3,130.1 418.6,130.9 418.8,129.7 419.1,127.0 419.3,127.2 419.5,129.3 419.8,126.9 420.0,129.1 420.3,126.4 420.5,127.8 420.7,129.1 421.0,126.9 421.2,128.9 421.5,128.8 421.7,129.3 421.9,126.4 422.2,126.6 422.4,126.3 422.7,126.4 422.9,123.4 423.2,125.8 423.4,126.1 423.6,123.5 423.9,123.4 424.1,125.2 424.4,128.5 424.6,127.1 424.8,125.5 425.1,126.6 425.3,124.6 425.6,129.1 425.8,126.3 426.0,128.3 426.3,125.4 426.5,127.4 426.8,125.6 427.0,128.0 427.3,129.0 427.5,128.5 427.7,127.7 428.0,128.2 428.2,124.8 428.5,124.5 428.7,126.0 428.9,127.8 429.2,126.4 429.4,127.1 429.7,123.9 429.9,125.4 430.1,125.1 430.4,126.3 430.6,128.5 430.9,126.6 431.1,127.0 431.4,124.7 431.6,125.1 431.8,126.4 432.1,125.8 432.3,122.9 432.6,126.5 432.8,126.5 433.0,125.4 433.3,126.1 433.5,125.7 433.8,124.2 434.0,122.5 434.2,127.8 434.5,125.4 434.7,125.5 435.0,125.8 435.2,126.2 435.5,126.6 435.7,124.8 435.9,127.1 436.2,126.7 436.4,126.7 436.7,126.7 436.9,127.0 437.1,125.3 437.4,126.7 437.6,126.4 437.9,126.6 438.1,128.0 438.3,127.7 438.6,127.9 438.8,126.1 439.1,127.3 439.3,127.8 439.5,126.1 439.8,125.8 440.0,129.2 440.3,124.3 440.5,126.9 440.8,127.2 441.0,125.6 441.2,127.2 441.5,128.3 441.7,124.4 442.0,129.1 442.2,127.3 442.4,125.6 442.7,128.0 442.9,126.2 443.2,125.1 443.4,121.8 443.6,126.3 443.9,124.7 444.1,123.3 444.4,123.7 444.6,125.4 444.9,123.2 445.1,123.8 445.3,123.4 445.6,122.6 445.8,122.9 446.1,124.0 446.3,124.3 446.5,126.5 446.8,125.3 447.0,124.9 447.3,126.0 447.5,125.5 447.7,127.1 448.0,123.9 448.2,123.3 448.5,127.2 448.7,126.4 449.0,127.5 449.2,125.6 449.4,127.1 449.7,127.9 449.9,128.4 450.2,127.8 450.4,129.3 450.6,126.7 450.9,128.5 451.1,126.6 451.4,127.0 451.6,125.4 451.8,126.9 452.1,125.2 452.3,127.9 452.6,125.5 452.8,126.6 453.1,125.9 453.3,126.0 453.5,124.6 453.8,128.8 454.0,125.3 454.3,127.9 454.5,123.9 454.7,128.4 455.0,126.8 455.2,127.7 455.5,123.0 455.7,127.3 455.9,125.3 456.2,126.2 456.4,128.1 456.7,126.0 456.9,124.6 457.2,125.9 457.4,124.3 457.6,126.2 457.9,125.7 458.1,126.0 458.4,124.8 458.6,122.4 458.8,124.4 459.1,124.4 459.3,125.4 459.6,125.4 459.8,122.0 460.0,125.6 460.3,125.1 460.5,123.8 460.8,124.3 461.0,120.9 461.3,127.2 461.5,123.4 461.7,122.9 462.0,125.6 462.2,125.0 462.5,123.5 462.7,121.9 462.9,125.6 463.2,126.7 463.4,123.3 463.7,122.8 463.9,125.7 464.1,128.7 464.4,123.7 464.6,126.4 464.9,124.7 465.1,126.7 465.3,127.5 465.6,127.9 465.8,125.3 466.1,125.3 466.3,130.4 466.6,128.6 466.8,124.6 467.0,127.6 467.3,129.0 467.5,127.0 467.8,127.1 468.0,127.0 468.2,127.5 468.5,127.2 468.7,127.6 469.0,126.7 469.2,128.5 469.4,127.9 469.7,127.9 469.9,126.0 470.2,127.5 470.4,128.3 470.7,127.6 470.9,128.0 471.1,127.1 471.4,127.7 471.6,125.6 471.9,126.1 472.1,127.9 472.3,128.2 472.6,126.1 472.8,126.4 473.1,127.1 473.3,128.8 473.5,129.1 473.8,125.8 474.0,125.2 474.3,125.2 474.5,128.2 474.8,124.9 475.0,127.2 475.2,125.9 475.5,125.9 475.7,127.6 476.0,127.3 476.2,129.5 476.4,127.8 476.7,128.7 476.9,125.1 477.2,125.3 477.4,123.7 477.6,124.2 477.9,125.2 478.1,123.5 478.4,124.2 478.6,122.4 478.9,122.4 479.1,124.0 479.3,123.0 479.6,123.3 479.8,124.2 480.1,122.9 480.3,122.1 480.5,125.4 480.8,125.8 481.0,128.9 481.3,126.2 481.5,127.0 481.7,129.9 482.0,126.7 482.2,126.6 482.5,128.8 482.7,128.6 483.0,129.8 483.2,127.6 483.4,131.2 483.7,129.8 483.9,126.9 484.2,129.9 484.4,129.6 484.6,130.3 484.9,131.5 485.1,129.7 485.4,128.9 485.6,130.7 485.8,128.6 486.1,127.1 486.3,127.2 486.6,130.7 486.8,129.7 487.0,130.4 487.3,126.5 487.5,127.0 487.8,126.8 488.0,128.9 488.3,129.2 488.5,127.4 488.7,127.2 489.0,128.5 489.2,127.0 489.5,126.1 489.7,126.6 489.9,128.7 490.2,130.4 490.4,128.0 490.7,127.5 490.9,128.4 491.1,128.8 491.4,129.4 491.6,127.6 491.9,128.9 492.1,128.8 492.4,130.6 492.6,130.0 492.8,128.9 493.1,130.5 493.3,130.8 493.6,129.4" fill="none" stroke="#DDB32F" stroke-width="3.2" stroke-linejoin="round"/>
<polyline points="126.0,543.2 126.1,543.1 126.2,542.0 126.3,542.5 126.4,541.5 126.5,541.6 126.6,541.1 126.7,540.5 126.8,540.7 126.9,540.4 127.0,540.8 127.1,540.5 127.2,539.8 127.3,539.2 127.4,539.0 127.5,538.4 127.6,539.0 127.7,538.8 127.8,538.3 127.9,538.4 128.0,538.2 128.1,538.4 128.2,537.4 128.3,537.9 128.5,537.1 128.6,537.6 128.7,536.5 128.8,537.1 128.9,536.1 129.0,536.8 129.1,536.2 129.2,535.3 129.3,535.9 129.4,535.3 129.5,535.3 129.6,535.8 129.7,534.6 129.8,534.3 129.9,534.7 130.0,533.9 130.1,534.2 130.2,534.0 130.3,533.5 130.4,533.5 130.5,532.2 130.6,533.5 130.7,532.4 130.8,532.1 130.9,533.0 131.0,532.7 131.1,531.7 131.2,531.9 131.3,531.4 131.4,530.9 131.5,531.3 131.6,531.4 131.7,531.9 131.8,530.6 131.9,530.8 132.0,530.2 132.1,530.1 132.4,530.3 132.6,528.8 132.8,528.6 133.1,528.4 133.3,528.8 133.6,528.1 133.8,527.8 134.1,527.4 134.3,527.3 134.5,526.3 134.8,526.1 135.0,525.6 135.3,525.6 135.5,524.6 135.7,524.7 136.0,525.4 136.2,524.3 136.5,523.7 136.7,523.0 136.9,523.2 137.2,522.8 137.4,522.7 137.7,521.9 137.9,522.0 138.2,521.7 138.4,521.5 138.6,520.7 138.9,520.8 139.1,520.9 139.4,519.8 139.6,519.9 139.8,519.2 140.1,518.9 140.3,518.3 140.6,518.0 140.8,518.3 141.0,517.8 141.3,518.0 141.5,516.5 141.8,516.7 142.0,516.0 142.3,516.3 142.5,516.7 142.7,515.0 143.0,515.2 143.2,514.9 143.5,514.6 143.7,514.1 143.9,513.8 144.2,514.3 144.4,512.9 144.7,513.3 144.9,513.0 145.1,511.9 145.4,511.9 145.6,512.1 145.9,512.5 146.1,511.4 146.4,511.0 146.6,511.0 146.8,511.2 147.1,510.8 147.3,510.7 147.6,509.9 147.8,509.4 148.0,509.0 148.3,509.4 148.5,508.8 148.8,508.4 149.0,508.5 149.2,508.1 149.5,507.0 149.7,507.5 150.0,507.0 150.2,507.2 150.5,506.8 150.7,507.2 150.9,506.3 151.2,505.7 151.4,505.1 151.7,505.2 151.9,505.2 152.1,505.2 152.4,505.2 152.6,504.9 152.9,504.4 153.1,504.7 153.3,503.9 153.6,504.4 153.8,504.5 154.1,504.1 154.3,504.1 154.5,503.8 154.8,502.7 155.0,503.0 155.3,502.7 155.5,502.2 155.8,502.0 156.0,502.5 156.2,501.6 156.5,501.8 156.7,501.8 157.0,501.4 157.2,502.0 157.4,501.6 157.7,501.1 157.9,500.7 158.2,500.9 158.4,500.6 158.6,500.1 158.9,499.7 159.1,499.8 159.4,499.5 159.6,499.9 159.9,499.7 160.1,499.3 160.3,499.4 160.6,499.3 160.8,498.4 161.1,498.9 161.3,499.0 161.5,498.3 161.8,497.7 162.0,498.2 162.3,497.6 162.5,498.1 162.7,497.9 163.0,497.9 163.2,497.5 163.5,496.6 163.7,497.6 164.0,496.4 164.2,497.3 164.4,496.9 164.7,496.3 164.9,496.3 165.2,496.3 165.4,496.9 165.6,496.0 165.9,496.4 166.1,494.9 166.4,495.8 166.6,495.6 166.8,495.9 167.1,495.6 167.3,495.7 167.6,494.8 167.8,495.1 168.1,494.7 168.3,495.0 168.5,494.8 168.8,494.0 169.0,494.8 169.3,495.0 169.5,494.0 169.7,494.5 170.0,494.1 170.2,493.5 170.5,494.1 170.7,493.3 170.9,493.8 171.2,492.9 171.4,492.8 171.7,493.4 171.9,493.3 172.2,493.4 172.4,492.9 172.6,492.5 172.9,493.4 173.1,492.4 173.4,493.1 173.6,492.9 173.8,493.1 174.1,491.6 174.3,492.2 174.6,492.0 174.8,492.3 175.0,491.5 175.3,492.6 175.5,491.7 175.8,490.8 176.0,491.6 176.3,491.4 176.5,491.0 176.7,491.5 177.0,491.1 177.2,490.7 177.5,490.9 177.7,490.8 177.9,491.0 178.2,490.6 178.4,490.6 178.7,490.0 178.9,490.2 179.1,490.5 179.4,491.2 179.6,489.9 179.9,489.8 180.1,490.3 180.3,490.6 180.6,490.2 180.8,489.3 181.1,489.9 181.3,489.6 181.6,489.2 181.8,488.7 182.0,489.2 182.3,489.2 182.5,489.3 182.8,488.5 183.0,488.7 183.2,489.1 183.5,489.6 183.7,489.3 184.0,488.8 184.2,489.3 184.4,488.6 184.7,488.7 184.9,488.6 185.2,488.4 185.4,488.3 185.7,488.7 185.9,488.4 186.1,487.3 186.4,488.5 186.6,488.1 186.9,487.4 187.1,487.8 187.3,487.9 187.6,488.0 187.8,487.2 188.1,486.9 188.3,486.6 188.5,487.0 188.8,486.5 189.0,487.2 189.3,486.6 189.5,486.8 189.8,486.4 190.0,486.1 190.2,486.0 190.5,486.7 190.7,485.9 191.0,486.5 191.2,486.7 191.4,486.3 191.7,486.8 191.9,486.2 192.2,486.1 192.4,486.3 192.6,486.0 192.9,486.2 193.1,486.1 193.4,486.6 193.6,486.0 193.9,486.3 194.1,486.1 194.3,485.9 194.6,485.7 194.8,486.4 195.1,486.3 195.3,485.8 195.5,485.4 195.8,485.4 196.0,485.1 196.3,484.9 196.5,485.2 196.7,485.3 197.0,485.6 197.2,485.6 197.5,485.3 197.7,485.0 198.0,485.0 198.2,485.0 198.4,485.0 198.7,484.7 198.9,484.8 199.2,484.7 199.4,484.6 199.6,484.9 199.9,485.1 200.1,484.5 200.4,484.5 200.6,484.7 200.8,484.8 201.1,483.8 201.3,484.9 201.6,484.8 201.8,484.6 202.0,485.1 202.3,484.7 202.5,484.0 202.8,484.4 203.0,484.5 203.3,484.5 203.5,484.6 203.7,484.3 204.0,484.7 204.2,484.8 204.5,484.5 204.7,484.2 204.9,484.4 205.2,484.2 205.4,485.2 205.7,484.0 205.9,483.5 206.1,483.9 206.4,484.5 206.6,484.7 206.9,484.3 207.1,484.8 207.4,484.1 207.6,484.6 207.8,484.0 208.1,483.9 208.3,485.2 208.6,484.3 208.8,484.7 209.0,484.9 209.3,484.6 209.5,484.5 209.8,484.0 210.0,485.0 210.2,484.0 210.5,483.6 210.7,484.2 211.0,484.2 211.2,484.3 211.5,484.7 211.7,484.0 211.9,483.9 212.2,483.7 212.4,483.0 212.7,483.6 212.9,483.6 213.1,483.1 213.4,484.2 213.6,484.0 213.9,483.8 214.1,483.9 214.3,483.5 214.6,483.9 214.8,483.2 215.1,483.3 215.3,483.6 215.6,484.1 215.8,483.8 216.0,483.7 216.3,484.5 216.5,484.0 216.8,483.8 217.0,484.0 217.2,483.5 217.5,483.7 217.7,484.4 218.0,484.1 218.2,484.4 218.4,483.9 218.7,484.5 218.9,483.8 219.2,484.0 219.4,483.8 219.7,484.2 219.9,484.7 220.1,483.4 220.4,484.2 220.6,483.6 220.9,483.9 221.1,483.8 221.3,483.4 221.6,483.9 221.8,483.5 222.1,484.6 222.3,483.7 222.5,484.1 222.8,484.0 223.0,484.0 223.3,483.8 223.5,483.3 223.8,484.6 224.0,483.9 224.2,484.1 224.5,483.4 224.7,484.0 225.0,483.7 225.2,484.0 225.4,483.6 225.7,483.5 225.9,484.0 226.2,483.8 226.4,484.4 226.6,483.7 226.9,483.5 227.1,484.0 227.4,483.4 227.6,484.6 227.8,484.5 228.1,484.3 228.3,484.0 228.6,483.8 228.8,483.8 229.1,483.8 229.3,483.5 229.5,484.0 229.8,484.3 230.0,484.3 230.3,483.0 230.5,484.7 230.7,483.9 231.0,483.3 231.2,483.7 231.5,484.2 231.7,483.9 231.9,483.6 232.2,483.5 232.4,484.3 232.7,483.7 232.9,483.9 233.2,483.6 233.4,483.5 233.6,484.2 233.9,484.7 234.1,484.0 234.4,483.5 234.6,484.0 234.8,484.2 235.1,483.3 235.3,484.6 235.6,483.8 235.8,484.4 236.0,484.1 236.3,484.1 236.5,483.5 236.8,484.4 237.0,484.2 237.3,484.6 237.5,483.8 237.7,484.1 238.0,483.8 238.2,484.4 238.5,484.2 238.7,483.7 238.9,484.2 239.2,483.9 239.4,483.9 239.7,484.3 239.9,484.8 240.1,483.8 240.4,484.1 240.6,483.8 240.9,485.0 241.1,484.9 241.4,485.1 241.6,484.6 241.8,483.9 242.1,484.1 242.3,484.3 242.6,484.2 242.8,484.0 243.0,484.4 243.3,484.2 243.5,484.3 243.8,485.3 244.0,484.6 244.2,484.0 244.5,484.7 244.7,484.6 245.0,484.8 245.2,484.8 245.5,484.2 245.7,484.8 245.9,485.0 246.2,485.8 246.4,484.9 246.7,485.4 246.9,485.3 247.1,484.3 247.4,484.4 247.6,485.4 247.9,484.3 248.1,484.4 248.3,484.9 248.6,484.4 248.8,485.3 249.1,485.1 249.3,485.2 249.5,485.1 249.8,484.4 250.0,485.3 250.3,485.2 250.5,485.1 250.8,484.7 251.0,484.9 251.2,484.5 251.5,485.1 251.7,485.3 252.0,485.0 252.2,484.8 252.4,485.2 252.7,484.7 252.9,484.1 253.2,485.0 253.4,484.8 253.6,484.3 253.9,485.1 254.1,485.3 254.4,485.4 254.6,484.9 254.9,484.9 255.1,485.2 255.3,485.1 255.6,484.7 255.8,484.9 256.1,485.8 256.3,485.2 256.5,485.2 256.8,485.0 257.0,485.3 257.3,485.4 257.5,485.4 257.7,485.9 258.0,485.2 258.2,485.4 258.5,485.0 258.7,485.5 259.0,485.3 259.2,485.5 259.4,485.6 259.7,484.9 259.9,485.4 260.2,485.1 260.4,485.7 260.6,485.2 260.9,485.9 261.1,485.5 261.4,485.5 261.6,485.1 261.8,485.3 262.1,485.5 262.3,485.1 262.6,485.4 262.8,485.3 263.1,485.3 263.3,485.6 263.5,485.7 263.8,485.5 264.0,485.8 264.3,485.6 264.5,485.3 264.7,485.4 265.0,485.9 265.2,486.2 265.5,485.8 265.7,485.8 265.9,485.3 266.2,485.9 266.4,485.8 266.7,485.5 266.9,486.0 267.2,485.9 267.4,485.2 267.6,485.3 267.9,485.6 268.1,485.8 268.4,486.3 268.6,485.7 268.8,485.9 269.1,485.9 269.3,486.2 269.6,485.9 269.8,486.0 270.0,485.8 270.3,485.4 270.5,485.7 270.8,486.5 271.0,486.2 271.3,486.4 271.5,486.1 271.7,485.6 272.0,485.6 272.2,486.1 272.5,485.8 272.7,486.3 272.9,486.6 273.2,486.7 273.4,486.5 273.7,485.7 273.9,486.8 274.1,485.9 274.4,486.0 274.6,486.6 274.9,486.5 275.1,486.7 275.3,486.5 275.6,486.2 275.8,486.4 276.1,486.0 276.3,485.9 276.6,486.2 276.8,486.2 277.0,486.3 277.3,486.1 277.5,486.7 277.8,486.2 278.0,486.3 278.2,486.7 278.5,485.6 278.7,486.8 279.0,486.8 279.2,486.4 279.4,487.3 279.7,486.9 279.9,487.2 280.2,487.0 280.4,486.6 280.7,486.5 280.9,486.2 281.1,486.3 281.4,486.1 281.6,486.3 281.9,486.7 282.1,486.1 282.3,486.7 282.6,486.7 282.8,485.9 283.1,486.2 283.3,486.4 283.5,486.1 283.8,486.1 284.0,486.9 284.3,486.4 284.5,486.8 284.8,486.3 285.0,486.6 285.2,485.8 285.5,486.2 285.7,486.7 286.0,486.4 286.2,486.9 286.4,486.5 286.7,486.3 286.9,486.5 287.2,487.3 287.4,486.8 287.6,486.5 287.9,486.6 288.1,486.3 288.4,487.2 288.6,486.5 288.9,487.0 289.1,486.6 289.3,486.5 289.6,486.4 289.8,486.9 290.1,486.6 290.3,487.1 290.5,487.2 290.8,486.5 291.0,486.7 291.3,487.4 291.5,487.1 291.7,486.8 292.0,486.2 292.2,486.5 292.5,486.6 292.7,487.6 293.0,487.0 293.2,486.8 293.4,486.8 293.7,486.7 293.9,486.9 294.2,486.1 294.4,486.2 294.6,486.8 294.9,487.1 295.1,485.9 295.4,486.8 295.6,486.1 295.8,485.8 296.1,486.9 296.3,486.5 296.6,486.7 296.8,486.4 297.0,486.5 297.3,485.9 297.5,486.5 297.8,486.7 298.0,486.3 298.3,486.9 298.5,486.9 298.7,486.0 299.0,487.1 299.2,487.0 299.5,486.8 299.7,487.2 299.9,487.6 300.2,486.4 300.4,487.1 300.7,487.1 300.9,487.0 301.1,487.2 301.4,487.3 301.6,486.9 301.9,486.1 302.1,486.8 302.4,486.8 302.6,487.7 302.8,487.2 303.1,487.7 303.3,487.0 303.6,487.4 303.8,487.4 304.0,487.4 304.3,487.6 304.5,488.0 304.8,487.2 305.0,488.0 305.2,487.9 305.5,487.6 305.7,487.7 306.0,487.3 306.2,487.1 306.5,487.4 306.7,487.4 306.9,487.4 307.2,487.1 307.4,488.0 307.7,487.2 307.9,487.6 308.1,487.7 308.4,487.2 308.6,487.3 308.9,486.9 309.1,486.7 309.3,488.0 309.6,487.2 309.8,486.5 310.1,486.9 310.3,486.7 310.6,487.3 310.8,487.9 311.0,487.8 311.3,487.1 311.5,487.1 311.8,487.7 312.0,487.6 312.2,487.4 312.5,488.2 312.7,487.6 313.0,486.9 313.2,486.7 313.4,487.6 313.7,486.8 313.9,487.7 314.2,487.9 314.4,488.4 314.7,487.2 314.9,487.7 315.1,486.7 315.4,487.4 315.6,487.5 315.9,488.2 316.1,487.0 316.3,487.7 316.6,487.6 316.8,488.4 317.1,487.2 317.3,487.2 317.5,487.8 317.8,487.6 318.0,487.5 318.3,487.3 318.5,487.7 318.8,487.1 319.0,487.9 319.2,488.1 319.5,488.1 319.7,488.9 320.0,488.2 320.2,487.5 320.4,487.8 320.7,488.1 320.9,487.7 321.2,488.5 321.4,487.9 321.6,487.5 321.9,487.4 322.1,488.0 322.4,487.3 322.6,486.9 322.8,487.8 323.1,487.4 323.3,488.3 323.6,488.5 323.8,487.5 324.1,487.8 324.3,487.7 324.5,488.0 324.8,487.9 325.0,487.5 325.3,487.2 325.5,487.9 325.7,488.5 326.0,487.4 326.2,487.6 326.5,487.6 326.7,487.8 326.9,487.0 327.2,487.8 327.4,487.7 327.7,488.6 327.9,488.1 328.2,488.2 328.4,487.9 328.6,487.8 328.9,488.3 329.1,487.4 329.4,488.5 329.6,488.2 329.8,488.0 330.1,488.6 330.3,487.9 330.6,487.9 330.8,488.3 331.0,487.4 331.3,488.1 331.5,488.0 331.8,488.5 332.0,488.7 332.3,488.3 332.5,488.2 332.7,488.2 333.0,487.7 333.2,489.0 333.5,488.5 333.7,488.8 333.9,487.6 334.2,488.4 334.4,488.4 334.7,488.6 334.9,487.9 335.1,488.4 335.4,488.2 335.6,489.1 335.9,487.9 336.1,488.2 336.4,488.1 336.6,487.8 336.8,488.3 337.1,488.3 337.3,488.0 337.6,488.0 337.8,488.3 338.0,488.1 338.3,488.3 338.5,487.9 338.8,487.8 339.0,488.2 339.2,487.4 339.5,488.7 339.7,488.3 340.0,487.5 340.2,488.3 340.5,488.8 340.7,487.7 340.9,488.0 341.2,488.7 341.4,487.9 341.7,488.6 341.9,488.8 342.1,488.3 342.4,488.5 342.6,488.7 342.9,488.4 343.1,488.7 343.3,488.3 343.6,488.3 343.8,488.1 344.1,488.5 344.3,488.9 344.5,488.9 344.8,488.5 345.0,487.8 345.3,488.1 345.5,488.7 345.8,488.1 346.0,488.9 346.2,488.1 346.5,488.7 346.7,488.2 347.0,488.3 347.2,488.6 347.4,488.4 347.7,489.0 347.9,488.6 348.2,488.2 348.4,487.0 348.6,488.3 348.9,488.6 349.1,489.0 349.4,488.3 349.6,489.4 349.9,489.1 350.1,488.8 350.3,489.4 350.6,488.4 350.8,488.7 351.1,489.4 351.3,489.4 351.5,489.8 351.8,489.8 352.0,489.1 352.3,489.0 352.5,489.0 352.7,489.0 353.0,489.3 353.2,488.9 353.5,489.5 353.7,488.9 354.0,488.3 354.2,488.3 354.4,489.0 354.7,488.9 354.9,488.3 355.2,488.2 355.4,489.5 355.6,489.1 355.9,488.9 356.1,488.5 356.4,489.3 356.6,488.8 356.8,489.2 357.1,488.2 357.3,488.9 357.6,489.1 357.8,489.2 358.1,488.7 358.3,488.8 358.5,489.5 358.8,489.0 359.0,489.6 359.3,489.4 359.5,489.6 359.7,489.6 360.0,489.4 360.2,489.5 360.5,489.0 360.7,488.9 360.9,489.3 361.2,489.6 361.4,488.9 361.7,490.0 361.9,490.0 362.2,489.0 362.4,489.1 362.6,489.0 362.9,489.4 363.1,489.9 363.4,489.6 363.6,489.2 363.8,489.8 364.1,489.8 364.3,490.1 364.6,490.0 364.8,489.3 365.0,489.4 365.3,490.0 365.5,490.0 365.8,489.8 366.0,489.4 366.3,490.0 366.5,489.6 366.7,490.4 367.0,490.0 367.2,489.4 367.5,489.2 367.7,490.0 367.9,489.8 368.2,489.2 368.4,489.7 368.7,489.7 368.9,489.3 369.1,489.4 369.4,489.0 369.6,489.2 369.9,489.7 370.1,489.5 370.3,489.4 370.6,489.9 370.8,489.8 371.1,489.0 371.3,490.0 371.6,489.0 371.8,489.3 372.0,489.5 372.3,489.2 372.5,489.2 372.8,488.9 373.0,489.6 373.2,489.5 373.5,489.6 373.7,488.8 374.0,489.2 374.2,490.0 374.4,489.8 374.7,490.0 374.9,489.8 375.2,489.7 375.4,489.0 375.7,490.6 375.9,489.5 376.1,489.8 376.4,490.2 376.6,490.0 376.9,490.2 377.1,490.0 377.3,489.6 377.6,490.6 377.8,489.5 378.1,490.2 378.3,489.5 378.5,489.8 378.8,489.5 379.0,489.7 379.3,489.5 379.5,489.9 379.8,490.2 380.0,489.6 380.2,489.5 380.5,489.0 380.7,490.5 381.0,489.8 381.2,489.4 381.4,490.3 381.7,490.0 381.9,489.1 382.2,489.4 382.4,490.4 382.6,489.5 382.9,489.7 383.1,489.9 383.4,490.1 383.6,490.1 383.9,490.5 384.1,490.4 384.3,489.8 384.6,490.0 384.8,489.3 385.1,490.1 385.3,490.9 385.5,490.0 385.8,489.8 386.0,489.7 386.3,489.8 386.5,490.2 386.7,489.3 387.0,490.2 387.2,489.7 387.5,490.2 387.7,490.5 388.0,489.6 388.2,491.1 388.4,490.5 388.7,490.1 388.9,490.4 389.2,490.0 389.4,490.4 389.6,490.6 389.9,489.6 390.1,490.5 390.4,490.5 390.6,490.9 390.8,490.8 391.1,490.3 391.3,490.3 391.6,490.6 391.8,490.8 392.0,490.3 392.3,491.1 392.5,490.6 392.8,490.6 393.0,490.8 393.3,490.4 393.5,490.6 393.7,490.7 394.0,489.7 394.2,490.0 394.5,489.9 394.7,490.3 394.9,490.0 395.2,490.0 395.4,489.9 395.7,489.4 395.9,490.4 396.1,490.2 396.4,490.3 396.6,491.6 396.9,490.9 397.1,490.4 397.4,490.2 397.6,490.7 397.8,490.1 398.1,490.2 398.3,490.9 398.6,490.2 398.8,490.2 399.0,490.7 399.3,491.3 399.5,490.4 399.8,491.0 400.0,491.0 400.2,490.8 400.5,491.0 400.7,490.4 401.0,490.4 401.2,490.2 401.5,490.4 401.7,490.9 401.9,490.6 402.2,490.2 402.4,490.7 402.7,489.5 402.9,490.8 403.1,490.9 403.4,490.3 403.6,490.5 403.9,490.9 404.1,491.0 404.3,490.8 404.6,490.6 404.8,490.7 405.1,491.1 405.3,490.8 405.6,490.6 405.8,490.6 406.0,492.1 406.3,491.2 406.5,491.1 406.8,490.9 407.0,490.7 407.2,490.4 407.5,490.5 407.7,490.9 408.0,490.9 408.2,490.2 408.4,491.2 408.7,490.9 408.9,490.4 409.2,490.9 409.4,491.9 409.7,491.0 409.9,491.3 410.1,491.3 410.4,490.9 410.6,491.1 410.9,491.4 411.1,491.0 411.3,491.2 411.6,491.4 411.8,491.3 412.1,491.4 412.3,491.6 412.5,491.7 412.8,491.5 413.0,491.9 413.3,492.0 413.5,491.0 413.8,491.5 414.0,491.4 414.2,491.4 414.5,491.4 414.7,491.3 415.0,491.3 415.2,491.6 415.4,490.9 415.7,491.5 415.9,490.9 416.2,492.0 416.4,491.7 416.6,490.9 416.9,491.3 417.1,491.5 417.4,491.1 417.6,491.7 417.8,491.3 418.1,492.1 418.3,491.4 418.6,491.5 418.8,491.0 419.1,490.9 419.3,491.6 419.5,490.6 419.8,491.4 420.0,492.0 420.3,492.1 420.5,490.6 420.7,491.2 421.0,491.4 421.2,491.5 421.5,491.6 421.7,490.7 421.9,491.3 422.2,490.6 422.4,491.4 422.7,492.2 422.9,491.0 423.2,491.5 423.4,491.4 423.6,490.8 423.9,491.5 424.1,491.0 424.4,491.5 424.6,491.8 424.8,491.3 425.1,491.8 425.3,491.1 425.6,491.2 425.8,491.6 426.0,491.4 426.3,491.5 426.5,491.8 426.8,491.4 427.0,491.8 427.3,491.5 427.5,492.2 427.7,491.8 428.0,491.7 428.2,492.2 428.5,492.1 428.7,492.1 428.9,491.7 429.2,492.2 429.4,491.8 429.7,491.4 429.9,491.9 430.1,492.6 430.4,492.0 430.6,491.7 430.9,492.2 431.1,491.7 431.4,491.9 431.6,491.9 431.8,492.2 432.1,492.3 432.3,492.2 432.6,492.1 432.8,491.9 433.0,492.0 433.3,492.2 433.5,492.1 433.8,492.0 434.0,492.8 434.2,492.5 434.5,492.5 434.7,492.3 435.0,492.3 435.2,492.3 435.5,492.6 435.7,492.0 435.9,492.2 436.2,492.9 436.4,492.3 436.7,492.8 436.9,491.7 437.1,492.5 437.4,492.5 437.6,492.3 437.9,492.4 438.1,492.4 438.3,491.8 438.6,492.3 438.8,492.0 439.1,491.9 439.3,492.7 439.5,491.8 439.8,492.2 440.0,492.1 440.3,492.9 440.5,492.3 440.8,492.5 441.0,492.9 441.2,491.9 441.5,492.6 441.7,492.9 442.0,492.8 442.2,492.5 442.4,492.4 442.7,492.5 442.9,492.3 443.2,492.1 443.4,493.1 443.6,492.8 443.9,492.9 444.1,492.5 444.4,491.9 444.6,492.2 444.9,492.9 445.1,492.6 445.3,492.1 445.6,492.7 445.8,492.6 446.1,492.4 446.3,493.3 446.5,492.3 446.8,492.5 447.0,492.4 447.3,493.0 447.5,492.9 447.7,492.8 448.0,492.4 448.2,492.4 448.5,492.4 448.7,491.7 449.0,491.9 449.2,492.6 449.4,492.5 449.7,491.6 449.9,492.4 450.2,491.7 450.4,491.7 450.6,492.6 450.9,492.5 451.1,492.4 451.4,492.8 451.6,492.9 451.8,492.7 452.1,492.3 452.3,492.8 452.6,492.8 452.8,492.9 453.1,493.3 453.3,492.2 453.5,493.7 453.8,493.1 454.0,492.7 454.3,493.4 454.5,492.7 454.7,492.5 455.0,493.3 455.2,492.9 455.5,493.4 455.7,492.8 455.9,492.9 456.2,492.9 456.4,492.4 456.7,492.8 456.9,492.4 457.2,492.7 457.4,493.4 457.6,492.8 457.9,492.7 458.1,493.5 458.4,492.5 458.6,493.0 458.8,492.9 459.1,493.5 459.3,493.1 459.6,493.1 459.8,493.4 460.0,493.3 460.3,494.1 460.5,492.8 460.8,493.8 461.0,494.2 461.3,493.7 461.5,493.7 461.7,493.1 462.0,493.7 462.2,493.2 462.5,493.7 462.7,492.5 462.9,493.1 463.2,492.6 463.4,493.8 463.7,493.2 463.9,493.8 464.1,493.3 464.4,493.2 464.6,494.1 464.9,494.0 465.1,494.0 465.3,494.2 465.6,493.9 465.8,494.0 466.1,494.2 466.3,493.5 466.6,493.3 466.8,494.0 467.0,493.7 467.3,493.4 467.5,493.4 467.8,493.6 468.0,492.9 468.2,492.9 468.5,492.9 468.7,493.3 469.0,492.5 469.2,492.6 469.4,493.4 469.7,493.3 469.9,492.9 470.2,493.6 470.4,493.2 470.7,493.4 470.9,493.7 471.1,493.5 471.4,494.1 471.6,493.7 471.9,494.3 472.1,492.7 472.3,493.1 472.6,493.2 472.8,493.6 473.1,493.4 473.3,493.3 473.5,493.5 473.8,493.5 474.0,494.2 474.3,493.7 474.5,494.0 474.8,494.3 475.0,494.3 475.2,493.6 475.5,493.4 475.7,494.3 476.0,493.1 476.2,493.2 476.4,493.9 476.7,493.9 476.9,493.8 477.2,493.4 477.4,493.9 477.6,494.1 477.9,493.6 478.1,494.5 478.4,493.6 478.6,493.3 478.9,493.6 479.1,493.4 479.3,493.5 479.6,493.4 479.8,493.7 480.1,494.1 480.3,493.9 480.5,493.8 480.8,493.3 481.0,493.2 481.3,493.7 481.5,494.1 481.7,494.1 482.0,494.0 482.2,493.4 482.5,493.8 482.7,493.9 483.0,494.2 483.2,493.6 483.4,493.8 483.7,494.0 483.9,493.9 484.2,493.3 484.4,494.1 484.6,493.4 484.9,493.6 485.1,494.1 485.4,493.8 485.6,494.2 485.8,494.5 486.1,494.3 486.3,494.6 486.6,494.1 486.8,494.3 487.0,494.1 487.3,494.0 487.5,495.5 487.8,494.2 488.0,495.0 488.3,494.3 488.5,494.7 488.7,494.3 489.0,493.9 489.2,495.0 489.5,494.3 489.7,494.4 489.9,495.1 490.2,494.1 490.4,494.4 490.7,494.6 490.9,494.6 491.1,493.1 491.4,494.5 491.6,495.0 491.9,494.7 492.1,494.5 492.4,494.5 492.6,494.4 492.8,494.7 493.1,494.1 493.3,494.5 493.6,494.8" fill="none" stroke="#8F9A6B" stroke-width="2.9" stroke-linejoin="round"/>
<polyline points="126.0,540.2 126.1,533.4 126.2,525.1 126.3,518.8 126.4,514.2 126.5,509.8 126.6,504.9 126.7,501.8 126.8,499.1 126.9,498.6 127.0,497.5 127.1,496.1 127.2,496.2 127.3,495.2 127.4,495.0 127.5,492.8 127.6,492.5 127.7,492.2 127.8,491.7 127.9,491.5 128.0,491.0 128.1,490.1 128.2,490.3 128.3,489.1 128.5,489.4 128.6,489.3 128.7,488.0 128.8,488.3 128.9,487.8 129.0,487.9 129.1,488.5 129.2,487.1 129.3,487.7 129.4,486.5 129.5,487.4 129.6,487.4 129.7,486.3 129.8,486.1 129.9,486.1 130.0,486.5 130.1,485.5 130.2,486.4 130.3,485.8 130.4,485.8 130.5,485.6 130.6,484.9 130.7,485.4 130.8,484.8 130.9,484.6 131.0,485.6 131.1,485.2 131.2,484.8 131.3,484.8 131.4,484.3 131.5,485.2 131.6,484.0 131.7,483.9 131.8,484.2 131.9,484.7 132.0,484.0 132.1,484.2 132.4,483.5 132.6,483.7 132.8,483.2 133.1,483.5 133.3,482.6 133.6,484.1 133.8,483.5 134.1,482.7 134.3,483.5 134.5,482.4 134.8,483.2 135.0,482.5 135.3,482.9 135.5,482.6 135.7,482.3 136.0,482.3 136.2,482.4 136.5,481.2 136.7,482.1 136.9,482.4 137.2,481.5 137.4,481.4 137.7,481.2 137.9,480.9 138.2,482.0 138.4,481.0 138.6,480.9 138.9,481.3 139.1,481.1 139.4,482.5 139.6,481.3 139.8,480.3 140.1,481.7 140.3,481.1 140.6,480.7 140.8,480.5 141.0,480.0 141.3,481.4 141.5,480.6 141.8,480.2 142.0,481.0 142.3,480.4 142.5,479.5 142.7,479.6 143.0,479.9 143.2,481.2 143.5,480.0 143.7,479.7 143.9,479.9 144.2,479.7 144.4,478.3 144.7,479.7 144.9,480.0 145.1,479.5 145.4,479.7 145.6,479.7 145.9,479.7 146.1,479.3 146.4,479.5 146.6,480.2 146.8,479.7 147.1,479.5 147.3,479.9 147.6,479.1 147.8,479.2 148.0,479.9 148.3,479.3 148.5,478.5 148.8,478.6 149.0,479.2 149.2,478.7 149.5,479.4 149.7,479.6 150.0,478.7 150.2,478.8 150.5,478.6 150.7,478.8 150.9,478.6 151.2,479.0 151.4,478.5 151.7,478.3 151.9,478.7 152.1,478.2 152.4,479.3 152.6,478.9 152.9,477.9 153.1,477.8 153.3,478.5 153.6,478.7 153.8,479.2 154.1,478.5 154.3,478.3 154.5,479.3 154.8,478.5 155.0,478.6 155.3,478.6 155.5,479.3 155.8,478.5 156.0,479.4 156.2,478.1 156.5,478.6 156.7,479.2 157.0,478.1 157.2,478.2 157.4,478.9 157.7,477.7 157.9,479.1 158.2,478.5 158.4,478.1 158.6,479.6 158.9,478.2 159.1,478.7 159.4,478.7 159.6,479.2 159.9,478.6 160.1,479.2 160.3,479.2 160.6,479.0 160.8,479.3 161.1,478.1 161.3,479.4 161.5,479.2 161.8,479.0 162.0,478.9 162.3,478.6 162.5,478.6 162.7,479.1 163.0,479.2 163.2,479.0 163.5,478.7 163.7,478.8 164.0,479.3 164.2,479.9 164.4,478.1 164.7,478.6 164.9,478.9 165.2,478.9 165.4,479.3 165.6,479.5 165.9,479.2 166.1,479.1 166.4,479.3 166.6,479.7 166.8,479.2 167.1,478.8 167.3,479.3 167.6,479.1 167.8,480.0 168.1,479.2 168.3,479.2 168.5,479.6 168.8,479.9 169.0,479.0 169.3,479.5 169.5,479.0 169.7,479.4 170.0,478.9 170.2,479.4 170.5,479.9 170.7,479.3 170.9,479.4 171.2,479.0 171.4,479.5 171.7,479.6 171.9,479.1 172.2,479.0 172.4,479.2 172.6,479.1 172.9,479.4 173.1,479.4 173.4,479.4 173.6,479.6 173.8,479.8 174.1,479.8 174.3,478.8 174.6,479.9 174.8,480.0 175.0,480.1 175.3,479.9 175.5,479.8 175.8,480.4 176.0,480.8 176.3,479.9 176.5,480.7 176.7,479.9 177.0,479.9 177.2,479.5 177.5,479.2 177.7,479.8 177.9,480.1 178.2,480.4 178.4,480.2 178.7,479.8 178.9,480.7 179.1,479.8 179.4,479.9 179.6,479.7 179.9,480.3 180.1,480.2 180.3,480.6 180.6,480.6 180.8,481.2 181.1,480.5 181.3,480.0 181.6,480.7 181.8,480.7 182.0,481.2 182.3,480.2 182.5,481.2 182.8,480.5 183.0,480.8 183.2,481.2 183.5,480.4 183.7,480.8 184.0,480.8 184.2,480.6 184.4,480.8 184.7,481.0 184.9,480.7 185.2,481.1 185.4,480.9 185.7,481.2 185.9,481.6 186.1,481.2 186.4,481.2 186.6,481.0 186.9,480.5 187.1,481.7 187.3,481.0 187.6,482.0 187.8,481.6 188.1,481.4 188.3,482.2 188.5,482.1 188.8,481.2 189.0,481.3 189.3,481.4 189.5,481.8 189.8,480.6 190.0,481.6 190.2,481.9 190.5,480.8 190.7,481.3 191.0,481.7 191.2,481.1 191.4,481.6 191.7,481.4 191.9,481.6 192.2,482.1 192.4,481.3 192.6,481.7 192.9,482.2 193.1,482.2 193.4,481.5 193.6,482.1 193.9,481.9 194.1,481.7 194.3,482.0 194.6,482.7 194.8,481.8 195.1,481.7 195.3,481.8 195.5,481.5 195.8,482.0 196.0,481.9 196.3,481.6 196.5,482.4 196.7,481.5 197.0,481.6 197.2,482.0 197.5,481.6 197.7,482.0 198.0,482.8 198.2,481.9 198.4,482.3 198.7,482.3 198.9,482.4 199.2,481.9 199.4,482.3 199.6,482.8 199.9,482.3 200.1,482.3 200.4,482.9 200.6,482.8 200.8,482.9 201.1,483.0 201.3,482.7 201.6,482.5 201.8,482.2 202.0,482.5 202.3,482.6 202.5,482.7 202.8,482.6 203.0,483.4 203.3,483.0 203.5,483.2 203.7,483.4 204.0,483.5 204.2,483.6 204.5,483.5 204.7,483.9 204.9,483.2 205.2,483.5 205.4,483.4 205.7,483.4 205.9,483.2 206.1,483.8 206.4,483.7 206.6,484.3 206.9,484.6 207.1,484.6 207.4,483.1 207.6,484.6 207.8,483.6 208.1,483.2 208.3,484.1 208.6,483.2 208.8,483.2 209.0,483.6 209.3,483.0 209.5,483.8 209.8,484.4 210.0,483.9 210.2,484.4 210.5,484.8 210.7,484.8 211.0,483.3 211.2,484.6 211.5,484.4 211.7,484.7 211.9,484.3 212.2,484.5 212.4,484.6 212.7,485.0 212.9,485.1 213.1,484.8 213.4,484.4 213.6,483.7 213.9,484.1 214.1,483.9 214.3,484.5 214.6,484.8 214.8,485.4 215.1,484.8 215.3,485.8 215.6,485.1 215.8,484.3 216.0,484.9 216.3,484.6 216.5,485.2 216.8,485.6 217.0,485.3 217.2,485.2 217.5,484.5 217.7,484.2 218.0,485.3 218.2,485.2 218.4,485.1 218.7,485.1 218.9,485.5 219.2,484.9 219.4,484.8 219.7,484.8 219.9,485.5 220.1,485.1 220.4,485.8 220.6,484.6 220.9,485.5 221.1,485.2 221.3,485.2 221.6,485.3 221.8,485.5 222.1,485.9 222.3,484.4 222.5,485.1 222.8,485.1 223.0,484.3 223.3,485.3 223.5,485.0 223.8,485.3 224.0,484.8 224.2,485.1 224.5,485.2 224.7,485.5 225.0,485.3 225.2,485.0 225.4,486.4 225.7,485.6 225.9,485.8 226.2,485.7 226.4,486.5 226.6,485.4 226.9,486.1 227.1,485.9 227.4,486.1 227.6,486.6 227.8,486.2 228.1,486.9 228.3,486.5 228.6,486.3 228.8,486.3 229.1,486.3 229.3,486.5 229.5,485.6 229.8,486.3 230.0,486.9 230.3,486.7 230.5,486.7 230.7,486.4 231.0,486.6 231.2,486.7 231.5,485.6 231.7,486.2 231.9,486.4 232.2,486.3 232.4,486.4 232.7,485.8 232.9,486.2 233.2,486.0 233.4,487.9 233.6,486.5 233.9,486.2 234.1,485.9 234.4,486.8 234.6,487.6 234.8,486.7 235.1,487.2 235.3,487.8 235.6,487.3 235.8,486.6 236.0,486.5 236.3,486.7 236.5,487.5 236.8,486.0 237.0,487.6 237.3,487.1 237.5,487.7 237.7,486.5 238.0,486.9 238.2,486.7 238.5,487.0 238.7,487.1 238.9,486.9 239.2,487.8 239.4,486.6 239.7,486.6 239.9,487.1 240.1,487.0 240.4,486.9 240.6,486.4 240.9,487.0 241.1,487.3 241.4,487.6 241.6,488.1 241.8,487.8 242.1,487.6 242.3,487.8 242.6,487.7 242.8,487.5 243.0,487.6 243.3,487.7 243.5,487.5 243.8,487.7 244.0,487.8 244.2,487.5 244.5,488.5 244.7,487.2 245.0,488.3 245.2,487.3 245.5,487.7 245.7,487.2 245.9,487.7 246.2,488.2 246.4,487.4 246.7,487.8 246.9,487.8 247.1,487.9 247.4,487.5 247.6,487.6 247.9,487.9 248.1,488.7 248.3,488.3 248.6,488.1 248.8,487.4 249.1,488.0 249.3,488.3 249.5,487.7 249.8,488.3 250.0,488.3 250.3,488.3 250.5,489.0 250.8,488.0 251.0,488.3 251.2,488.6 251.5,489.0 251.7,488.5 252.0,488.0 252.2,488.9 252.4,489.1 252.7,488.5 252.9,489.4 253.2,489.7 253.4,489.0 253.6,489.1 253.9,488.9 254.1,489.0 254.4,488.7 254.6,488.9 254.9,489.1 255.1,489.0 255.3,488.5 255.6,488.4 255.8,488.4 256.1,488.5 256.3,490.2 256.5,489.3 256.8,489.0 257.0,488.9 257.3,489.7 257.5,488.4 257.7,488.9 258.0,489.4 258.2,489.1 258.5,489.3 258.7,489.5 259.0,489.0 259.2,489.4 259.4,489.8 259.7,489.5 259.9,489.2 260.2,489.6 260.4,488.6 260.6,489.6 260.9,488.4 261.1,488.8 261.4,489.5 261.6,489.1 261.8,488.7 262.1,489.3 262.3,489.7 262.6,489.2 262.8,488.4 263.1,489.9 263.3,489.1 263.5,489.3 263.8,489.4 264.0,489.5 264.3,489.6 264.5,489.0 264.7,489.3 265.0,490.1 265.2,489.0 265.5,490.3 265.7,489.6 265.9,489.8 266.2,489.5 266.4,489.9 266.7,489.7 266.9,490.2 267.2,489.7 267.4,490.0 267.6,489.3 267.9,490.5 268.1,489.7 268.4,490.0 268.6,490.1 268.8,490.4 269.1,490.0 269.3,490.8 269.6,490.8 269.8,489.9 270.0,490.9 270.3,489.7 270.5,490.4 270.8,490.2 271.0,490.3 271.3,490.2 271.5,490.5 271.7,490.5 272.0,490.5 272.2,490.0 272.5,490.0 272.7,490.0 272.9,490.4 273.2,490.7 273.4,491.4 273.7,490.4 273.9,490.4 274.1,490.9 274.4,490.4 274.6,490.3 274.9,490.8 275.1,490.4 275.3,490.8 275.6,491.7 275.8,491.1 276.1,491.1 276.3,490.7 276.6,491.4 276.8,491.2 277.0,491.4 277.3,491.1 277.5,491.0 277.8,490.6 278.0,490.7 278.2,491.0 278.5,490.9 278.7,491.0 279.0,491.0 279.2,490.4 279.4,492.1 279.7,491.1 279.9,490.9 280.2,490.6 280.4,491.6 280.7,491.0 280.9,490.8 281.1,491.4 281.4,492.0 281.6,491.4 281.9,491.8 282.1,491.0 282.3,491.7 282.6,490.6 282.8,491.3 283.1,491.8 283.3,491.7 283.5,492.0 283.8,491.4 284.0,491.0 284.3,491.8 284.5,491.3 284.8,492.2 285.0,491.7 285.2,490.9 285.5,492.5 285.7,491.4 286.0,491.4 286.2,492.7 286.4,492.5 286.7,492.3 286.9,491.5 287.2,492.1 287.4,491.9 287.6,491.6 287.9,491.8 288.1,491.8 288.4,492.0 288.6,491.4 288.9,492.2 289.1,491.2 289.3,492.0 289.6,492.2 289.8,491.6 290.1,491.7 290.3,492.7 290.5,491.8 290.8,492.5 291.0,492.3 291.3,491.7 291.5,492.5 291.7,492.0 292.0,492.4 292.2,491.4 292.5,492.3 292.7,492.9 293.0,492.9 293.2,492.9 293.4,492.4 293.7,492.5 293.9,492.1 294.2,492.5 294.4,492.5 294.6,492.4 294.9,492.6 295.1,492.5 295.4,492.3 295.6,492.3 295.8,492.9 296.1,493.4 296.3,492.9 296.6,492.4 296.8,493.6 297.0,492.7 297.3,492.3 297.5,492.7 297.8,492.9 298.0,491.6 298.3,491.8 298.5,492.5 298.7,491.8 299.0,491.8 299.2,492.9 299.5,491.3 299.7,492.9 299.9,492.6 300.2,493.0 300.4,492.5 300.7,493.1 300.9,492.6 301.1,492.2 301.4,492.6 301.6,492.9 301.9,492.2 302.1,493.3 302.4,492.6 302.6,493.2 302.8,493.1 303.1,493.2 303.3,493.2 303.6,493.4 303.8,493.8 304.0,493.7 304.3,493.3 304.5,493.6 304.8,494.0 305.0,493.8 305.2,493.9 305.5,493.6 305.7,493.5 306.0,493.6 306.2,493.9 306.5,493.6 306.7,494.2 306.9,494.9 307.2,493.6 307.4,494.3 307.7,494.0 307.9,494.1 308.1,493.3 308.4,494.1 308.6,493.4 308.9,493.7 309.1,494.0 309.3,494.2 309.6,493.4 309.8,493.5 310.1,493.4 310.3,493.0 310.6,493.7 310.8,493.7 311.0,493.9 311.3,493.9 311.5,494.1 311.8,494.4 312.0,493.2 312.2,494.9 312.5,493.9 312.7,493.9 313.0,494.0 313.2,494.5 313.4,494.1 313.7,494.3 313.9,494.5 314.2,494.1 314.4,494.2 314.7,494.3 314.9,493.8 315.1,494.6 315.4,494.0 315.6,494.4 315.9,494.0 316.1,494.2 316.3,494.2 316.6,494.7 316.8,494.6 317.1,494.7 317.3,494.3 317.5,494.0 317.8,493.9 318.0,494.5 318.3,494.3 318.5,495.0 318.8,495.3 319.0,494.7 319.2,494.6 319.5,495.0 319.7,495.1 320.0,494.2 320.2,494.8 320.4,495.3 320.7,493.6 320.9,494.6 321.2,494.9 321.4,494.6 321.6,495.3 321.9,494.3 322.1,495.8 322.4,495.7 322.6,495.3 322.8,495.6 323.1,494.6 323.3,495.9 323.6,495.6 323.8,495.2 324.1,495.0 324.3,494.9 324.5,495.2 324.8,494.4 325.0,495.5 325.3,495.3 325.5,495.0 325.7,495.5 326.0,495.5 326.2,495.5 326.5,495.6 326.7,495.8 326.9,495.6 327.2,496.0 327.4,495.2 327.7,496.0 327.9,494.4 328.2,494.6 328.4,494.8 328.6,495.3 328.9,495.5 329.1,494.7 329.4,495.1 329.6,494.9 329.8,495.4 330.1,494.6 330.3,495.4 330.6,495.1 330.8,495.9 331.0,495.5 331.3,495.0 331.5,495.5 331.8,495.5 332.0,495.0 332.3,495.4 332.5,494.9 332.7,496.5 333.0,495.3 333.2,495.3 333.5,496.3 333.7,496.2 333.9,495.3 334.2,496.2 334.4,496.1 334.7,495.6 334.9,496.0 335.1,495.7 335.4,496.4 335.6,495.9 335.9,495.6 336.1,495.9 336.4,496.9 336.6,495.7 336.8,495.9 337.1,496.3 337.3,495.3 337.6,496.6 337.8,495.0 338.0,496.1 338.3,495.1 338.5,495.8 338.8,496.4 339.0,495.8 339.2,495.7 339.5,495.6 339.7,495.4 340.0,496.3 340.2,495.7 340.5,495.6 340.7,496.0 340.9,496.3 341.2,496.4 341.4,495.7 341.7,495.7 341.9,496.4 342.1,496.7 342.4,495.6 342.6,496.8 342.9,496.1 343.1,496.6 343.3,497.0 343.6,496.3 343.8,496.4 344.1,495.8 344.3,495.4 344.5,496.5 344.8,496.0 345.0,496.0 345.3,496.7 345.5,496.9 345.8,495.8 346.0,496.7 346.2,496.6 346.5,496.7 346.7,496.6 347.0,496.8 347.2,496.2 347.4,496.0 347.7,496.7 347.9,497.2 348.2,496.6 348.4,497.2 348.6,496.9 348.9,496.1 349.1,495.6 349.4,496.4 349.6,497.0 349.9,496.3 350.1,497.6 350.3,496.9 350.6,496.0 350.8,496.3 351.1,497.2 351.3,497.3 351.5,496.3 351.8,496.7 352.0,496.9 352.3,496.5 352.5,497.0 352.7,497.6 353.0,496.5 353.2,497.1 353.5,497.3 353.7,497.5 354.0,496.9 354.2,497.4 354.4,496.8 354.7,497.2 354.9,496.6 355.2,497.2 355.4,497.4 355.6,497.9 355.9,497.6 356.1,496.8 356.4,495.8 356.6,497.7 356.8,497.6 357.1,497.0 357.3,497.0 357.6,497.5 357.8,497.2 358.1,498.0 358.3,497.4 358.5,497.0 358.8,496.7 359.0,497.5 359.3,497.5 359.5,497.3 359.7,497.0 360.0,497.3 360.2,497.9 360.5,497.4 360.7,497.2 360.9,497.9 361.2,498.2 361.4,497.4 361.7,497.5 361.9,497.3 362.2,497.7 362.4,498.0 362.6,498.0 362.9,498.2 363.1,498.2 363.4,498.1 363.6,498.1 363.8,497.4 364.1,498.5 364.3,498.0 364.6,498.3 364.8,497.4 365.0,497.9 365.3,498.2 365.5,497.7 365.8,498.0 366.0,498.2 366.3,497.4 366.5,497.7 366.7,497.3 367.0,497.5 367.2,497.7 367.5,497.9 367.7,498.5 367.9,497.7 368.2,498.0 368.4,497.8 368.7,498.1 368.9,498.4 369.1,498.6 369.4,497.9 369.6,497.7 369.9,498.4 370.1,498.1 370.3,497.7 370.6,498.7 370.8,498.5 371.1,498.8 371.3,497.9 371.6,498.3 371.8,498.6 372.0,499.1 372.3,498.5 372.5,498.0 372.8,498.6 373.0,498.7 373.2,498.2 373.5,499.0 373.7,498.5 374.0,498.2 374.2,498.8 374.4,498.8 374.7,498.3 374.9,498.5 375.2,498.5 375.4,498.4 375.7,498.4 375.9,498.9 376.1,498.8 376.4,498.3 376.6,498.1 376.9,498.0 377.1,499.0 377.3,498.2 377.6,498.3 377.8,498.7 378.1,498.5 378.3,498.4 378.5,498.0 378.8,499.2 379.0,498.5 379.3,498.8 379.5,498.9 379.8,498.3 380.0,498.5 380.2,499.3 380.5,499.0 380.7,498.7 381.0,499.5 381.2,498.6 381.4,499.0 381.7,499.0 381.9,499.0 382.2,498.4 382.4,499.3 382.6,499.5 382.9,498.7 383.1,499.7 383.4,499.8 383.6,500.1 383.9,499.1 384.1,499.4 384.3,499.3 384.6,499.4 384.8,499.5 385.1,499.7 385.3,499.7 385.5,499.2 385.8,499.3 386.0,498.6 386.3,499.7 386.5,499.6 386.7,499.8 387.0,498.9 387.2,500.0 387.5,499.2 387.7,499.0 388.0,499.7 388.2,499.3 388.4,500.6 388.7,499.9 388.9,500.5 389.2,499.7 389.4,499.8 389.6,500.2 389.9,499.5 390.1,499.7 390.4,500.1 390.6,500.1 390.8,500.6 391.1,500.0 391.3,499.1 391.6,500.3 391.8,499.8 392.0,500.3 392.3,499.7 392.5,499.9 392.8,500.2 393.0,500.9 393.3,500.4 393.5,499.6 393.7,500.3 394.0,499.9 394.2,500.4 394.5,501.0 394.7,500.0 394.9,500.0 395.2,500.4 395.4,500.2 395.7,499.9 395.9,500.3 396.1,499.9 396.4,500.1 396.6,501.0 396.9,500.0 397.1,500.2 397.4,500.4 397.6,499.9 397.8,500.3 398.1,499.9 398.3,499.7 398.6,500.1 398.8,500.8 399.0,500.5 399.3,499.8 399.5,500.4 399.8,500.6 400.0,500.4 400.2,500.2 400.5,500.3 400.7,500.2 401.0,500.9 401.2,500.7 401.5,500.7 401.7,500.7 401.9,501.6 402.2,500.9 402.4,501.4 402.7,500.2 402.9,500.2 403.1,500.2 403.4,500.6 403.6,501.1 403.9,500.6 404.1,501.1 404.3,500.8 404.6,501.4 404.8,501.3 405.1,500.9 405.3,500.3 405.6,501.0 405.8,500.1 406.0,499.9 406.3,501.6 406.5,501.0 406.8,501.4 407.0,501.1 407.2,501.2 407.5,501.0 407.7,500.6 408.0,500.7 408.2,501.0 408.4,501.1 408.7,501.1 408.9,501.1 409.2,501.0 409.4,501.2 409.7,501.0 409.9,501.8 410.1,501.0 410.4,500.5 410.6,501.2 410.9,501.8 411.1,500.6 411.3,501.3 411.6,502.4 411.8,501.2 412.1,500.9 412.3,500.9 412.5,500.5 412.8,500.8 413.0,501.1 413.3,502.1 413.5,501.8 413.8,501.3 414.0,501.2 414.2,502.0 414.5,501.9 414.7,501.5 415.0,502.6 415.2,502.7 415.4,502.0 415.7,501.8 415.9,502.2 416.2,503.0 416.4,502.0 416.6,502.6 416.9,501.8 417.1,502.1 417.4,502.0 417.6,501.9 417.8,502.4 418.1,501.8 418.3,501.6 418.6,502.0 418.8,501.6 419.1,502.4 419.3,501.7 419.5,502.0 419.8,502.5 420.0,502.1 420.3,502.3 420.5,502.3 420.7,502.0 421.0,501.6 421.2,502.2 421.5,502.0 421.7,502.7 421.9,502.1 422.2,501.6 422.4,501.8 422.7,502.0 422.9,502.4 423.2,502.6 423.4,502.2 423.6,502.8 423.9,502.8 424.1,501.8 424.4,502.6 424.6,501.5 424.8,502.9 425.1,502.1 425.3,502.8 425.6,502.3 425.8,502.8 426.0,502.4 426.3,502.4 426.5,502.6 426.8,502.2 427.0,501.8 427.3,502.6 427.5,502.0 427.7,502.4 428.0,502.4 428.2,501.5 428.5,503.3 428.7,502.7 428.9,503.2 429.2,502.5 429.4,502.5 429.7,500.8 429.9,502.2 430.1,501.6 430.4,501.8 430.6,502.6 430.9,502.2 431.1,501.6 431.4,502.3 431.6,502.3 431.8,502.3 432.1,503.2 432.3,503.0 432.6,502.6 432.8,502.5 433.0,503.2 433.3,503.0 433.5,503.0 433.8,503.1 434.0,502.8 434.2,503.1 434.5,503.0 434.7,503.7 435.0,503.6 435.2,503.0 435.5,503.9 435.7,503.1 435.9,503.5 436.2,503.6 436.4,503.0 436.7,503.6 436.9,503.7 437.1,503.7 437.4,503.4 437.6,502.3 437.9,504.4 438.1,503.6 438.3,503.7 438.6,503.3 438.8,503.9 439.1,504.8 439.3,503.2 439.5,504.2 439.8,503.8 440.0,504.3 440.3,504.2 440.5,503.9 440.8,503.3 441.0,503.3 441.2,503.9 441.5,503.4 441.7,503.7 442.0,503.5 442.2,503.5 442.4,503.3 442.7,503.8 442.9,503.6 443.2,503.5 443.4,503.6 443.6,503.9 443.9,502.9 444.1,503.8 444.4,503.3 444.6,503.5 444.9,503.2 445.1,504.6 445.3,502.9 445.6,503.9 445.8,504.4 446.1,503.8 446.3,503.0 446.5,503.7 446.8,504.5 447.0,504.2 447.3,503.5 447.5,504.7 447.7,504.1 448.0,504.2 448.2,503.1 448.5,504.1 448.7,503.4 449.0,504.3 449.2,504.3 449.4,503.6 449.7,503.7 449.9,504.7 450.2,503.7 450.4,503.8 450.6,504.4 450.9,504.0 451.1,504.1 451.4,504.4 451.6,504.5 451.8,504.6 452.1,504.5 452.3,504.9 452.6,504.4 452.8,505.0 453.1,504.4 453.3,504.4 453.5,504.8 453.8,504.0 454.0,503.5 454.3,503.8 454.5,504.9 454.7,503.8 455.0,504.2 455.2,504.3 455.5,504.6 455.7,504.4 455.9,503.8 456.2,504.2 456.4,504.7 456.7,504.8 456.9,504.8 457.2,504.4 457.4,503.9 457.6,505.2 457.9,504.8 458.1,505.0 458.4,505.2 458.6,504.7 458.8,504.7 459.1,505.6 459.3,505.5 459.6,504.6 459.8,505.0 460.0,505.0 460.3,505.4 460.5,505.4 460.8,505.1 461.0,505.5 461.3,505.8 461.5,505.3 461.7,504.9 462.0,505.8 462.2,504.9 462.5,505.0 462.7,505.7 462.9,505.4 463.2,505.4 463.4,505.1 463.7,505.2 463.9,506.0 464.1,506.1 464.4,505.1 464.6,505.5 464.9,505.5 465.1,505.5 465.3,505.1 465.6,506.2 465.8,505.3 466.1,506.1 466.3,505.5 466.6,505.3 466.8,506.4 467.0,505.7 467.3,506.0 467.5,506.1 467.8,505.9 468.0,506.4 468.2,506.4 468.5,505.7 468.7,505.6 469.0,506.2 469.2,506.6 469.4,505.0 469.7,505.4 469.9,505.7 470.2,506.3 470.4,506.1 470.7,505.7 470.9,506.2 471.1,505.1 471.4,505.7 471.6,505.6 471.9,506.3 472.1,506.2 472.3,506.2 472.6,505.7 472.8,506.0 473.1,506.0 473.3,505.7 473.5,505.8 473.8,505.2 474.0,506.0 474.3,506.3 474.5,505.9 474.8,505.2 475.0,506.1 475.2,505.8 475.5,506.0 475.7,505.7 476.0,505.7 476.2,506.2 476.4,505.9 476.7,505.5 476.9,505.5 477.2,505.6 477.4,505.7 477.6,506.3 477.9,506.4 478.1,505.9 478.4,506.8 478.6,506.4 478.9,507.2 479.1,506.6 479.3,506.8 479.6,507.0 479.8,506.3 480.1,506.9 480.3,506.7 480.5,506.7 480.8,506.9 481.0,506.1 481.3,506.9 481.5,506.6 481.7,507.3 482.0,507.0 482.2,506.9 482.5,507.0 482.7,507.1 483.0,506.8 483.2,506.3 483.4,507.0 483.7,507.1 483.9,507.2 484.2,506.0 484.4,506.4 484.6,506.9 484.9,506.8 485.1,507.3 485.4,507.1 485.6,506.9 485.8,506.9 486.1,507.3 486.3,507.3 486.6,506.7 486.8,506.8 487.0,507.8 487.3,506.9 487.5,506.4 487.8,507.2 488.0,506.9 488.3,507.6 488.5,506.7 488.7,507.6 489.0,507.6 489.2,507.3 489.5,506.2 489.7,507.5 489.9,507.8 490.2,507.1 490.4,507.2 490.7,506.7 490.9,507.9 491.1,508.1 491.4,507.6 491.6,507.4 491.9,507.4 492.1,507.1 492.4,508.3 492.6,508.0 492.8,507.7 493.1,507.3 493.3,507.4 493.6,507.8" fill="none" stroke="#5B1058" stroke-width="3.0" stroke-linejoin="round"/>
</g>
<rect x="124.0" y="65.5" width="370.0" height="540.3" fill="none" stroke="#231F20" stroke-width="1.5"/>
<line x1="118.2" y1="561.2" x2="124.0" y2="561.2" stroke="#231F20" stroke-width="1.5"/>
<text transform="translate(112.2,573.1) scale(1,1.04)" font-size="32.7" fill="#231F20" text-anchor="end" >0</text>
<line x1="118.2" y1="466.1" x2="124.0" y2="466.1" stroke="#231F20" stroke-width="1.5"/>
<text transform="translate(112.2,478.0) scale(1,1.04)" font-size="32.7" fill="#231F20" text-anchor="end" >200</text>
<line x1="118.2" y1="371.1" x2="124.0" y2="371.1" stroke="#231F20" stroke-width="1.5"/>
<text transform="translate(112.2,383.0) scale(1,1.04)" font-size="32.7" fill="#231F20" text-anchor="end" >400</text>
<line x1="118.2" y1="276.0" x2="124.0" y2="276.0" stroke="#231F20" stroke-width="1.5"/>
<text transform="translate(112.2,287.9) scale(1,1.04)" font-size="32.7" fill="#231F20" text-anchor="end" >600</text>
<line x1="118.2" y1="181.0" x2="124.0" y2="181.0" stroke="#231F20" stroke-width="1.5"/>
<text transform="translate(112.2,192.9) scale(1,1.04)" font-size="32.7" fill="#231F20" text-anchor="end" >800</text>
<line x1="118.2" y1="85.9" x2="124.0" y2="85.9" stroke="#231F20" stroke-width="1.5"/>
<text transform="translate(112.2,97.8) scale(1,1.04)" font-size="32.7" fill="#231F20" text-anchor="end" >1000</text>
<line x1="126.0" y1="605.8" x2="126.0" y2="611.5999999999999" stroke="#231F20" stroke-width="1.5"/>
<text transform="translate(126.7,641.2) scale(1,1.04)" font-size="32.7" fill="#231F20" text-anchor="middle" >0</text>
<line x1="228.1" y1="605.8" x2="228.1" y2="611.5999999999999" stroke="#231F20" stroke-width="1.5"/>
<text transform="translate(228.8,641.2) scale(1,1.04)" font-size="32.7" fill="#231F20" text-anchor="middle" >50</text>
<line x1="330.2" y1="605.8" x2="330.2" y2="611.5999999999999" stroke="#231F20" stroke-width="1.5"/>
<text transform="translate(330.9,641.2) scale(1,1.04)" font-size="32.7" fill="#231F20" text-anchor="middle" >100</text>
<line x1="432.3" y1="605.8" x2="432.3" y2="611.5999999999999" stroke="#231F20" stroke-width="1.5"/>
<text transform="translate(433.0,641.2) scale(1,1.04)" font-size="32.7" fill="#231F20" text-anchor="middle" >150</text>
<text x="309.3" y="684" font-size="41.5" fill="#231F20" text-anchor="middle" >time [min]</text>
<text transform="translate(43.8,335.5) rotate(-90)" font-size="41.5" fill="#231F20" text-anchor="middle">change in NADH [µM]</text>
<text x="276" y="223.5" font-size="24.9" fill="#DDB32F" text-anchor="start" >Mdh2 CT4-1 Cn</text>
<text x="250.5" y="474" font-size="24.9" fill="#8F9A6B" text-anchor="start" >Mdh Bm MGA3</text>
<text x="250.5" y="537" font-size="24.9" fill="#5B1058" text-anchor="start" >Mdh Bm MGA3 + Act</text>
<text x="6.4" y="36.1" font-size="49" fill="#231F20" text-anchor="start" >a</text>
<ellipse cx="80" cy="25.2" rx="1.6" ry="0.9" fill="#231F20"/>
<text x="507.5" y="36.1" font-size="49" fill="#231F20" text-anchor="start" >b</text>
<text x="747.5" y="92.5" font-size="52.9" fill="#2BAA8A" text-anchor="middle" >methanol</text>
<text x="748" y="390" font-size="52.9" fill="#088BBB" text-anchor="middle" >formaldehyde</text>
<text x="748" y="689" font-size="52.9" fill="#EA4970" text-anchor="middle" >formate</text>
<text x="626" y="181" font-size="36.6" fill="#231F20" text-anchor="start" >NAD</text>
<text x="517.8" y="289" font-size="36.7" fill="#DDB32F" text-anchor="start" >NADH</text>
<text x="633.5" y="289" font-size="36.7" fill="#231F20" text-anchor="start" >+ H</text>
<text x="692.5" y="276.6" font-size="20.5" fill="#231F20" text-anchor="start" >+</text>
<line x1="749.5" y1="164.2" x2="749.5" y2="294" stroke="#231F20" stroke-width="5"/>
<polygon points="742,293.2 757,293.2 749.5,305.6" fill="#231F20"/>
<path d="M713,169 C733,169 748.5,187 748.5,222 C748.5,253 738,271 718.5,279.8" fill="none" stroke="#231F20" stroke-width="5.3"/>
<polygon points="707.4,282.5 718.5,272.8 721.3,286.8" fill="#231F20"/>
<text x="836.5" y="223.7" font-size="27" fill="#231F20">Δ<tspan font-size="15" dy="9" dx="0.5">r</tspan><tspan dy="-9" dx="0.8">G</tspan><tspan font-size="14" dy="-8" dx="0.2">’0</tspan><tspan dy="8" dx="-0.4"> =</tspan></text>
<text x="876.3" y="255.5" font-size="26.6" fill="#231F20" text-anchor="middle" >32.0 ± 6.5 kJ/mol</text>
<text x="626" y="480" font-size="36.6" fill="#231F20" text-anchor="start" >NAD</text>
<text x="517.8" y="588" font-size="36.7" fill="#DDB32F" text-anchor="start" >NADH</text>
<text x="633.5" y="588" font-size="36.7" fill="#231F20" text-anchor="start" >+ H</text>
<text x="692.5" y="575.6" font-size="20.5" fill="#231F20" text-anchor="start" >+</text>
<line x1="749.5" y1="463.2" x2="749.5" y2="593" stroke="#231F20" stroke-width="5"/>
<polygon points="742,592.2 757,592.2 749.5,604.6" fill="#231F20"/>
<path d="M713,468 C733,468 748.5,486 748.5,521 C748.5,552 738,570 718.5,578.8" fill="none" stroke="#231F20" stroke-width="5.3"/>
<polygon points="707.4,581.5 718.5,571.8 721.3,585.8" fill="#231F20"/>
<text x="836.5" y="522.7" font-size="27" fill="#231F20">Δ<tspan font-size="15" dy="9" dx="0.5">r</tspan><tspan dy="-9" dx="0.8">G</tspan><tspan font-size="14" dy="-8" dx="0.2">’0</tspan><tspan dy="8" dx="-0.4"> =</tspan></text>
<text x="876.3" y="554.5" font-size="26.6" fill="#231F20" text-anchor="middle" >-49.6 ± 3.8 kJ/mol</text>
<text x="7.7" y="753.4" font-size="49" fill="#231F20" text-anchor="start" >c</text>
<text x="162.5" y="743.2" font-size="24.85" fill="#231F20" text-anchor="start" >Initial substrate concentrations:</text>
<text x="162.5" y="773" font-size="24.85" fill="#231F20">500 mM methanol and 5 mM NAD<tspan font-size="14.5" dy="-8.3" dx="0.3">+</tspan></text>
<rect x="147.5" y="786.0" width="771.3" height="356.20000000000005" fill="none" stroke="#231F20" stroke-width="1.5"/>
<line x1="141.8" y1="1142.2" x2="147.5" y2="1142.2" stroke="#231F20" stroke-width="1.5"/>
<text transform="translate(135.4,1157.1) scale(1,1.05)" font-size="40.4" fill="#231F20" text-anchor="end" >0</text>
<line x1="141.8" y1="1071.0" x2="147.5" y2="1071.0" stroke="#231F20" stroke-width="1.5"/>
<text transform="translate(135.4,1085.9) scale(1,1.05)" font-size="40.4" fill="#231F20" text-anchor="end" >200</text>
<line x1="141.8" y1="999.7" x2="147.5" y2="999.7" stroke="#231F20" stroke-width="1.5"/>
<text transform="translate(135.4,1014.6) scale(1,1.05)" font-size="40.4" fill="#231F20" text-anchor="end" >400</text>
<line x1="141.8" y1="928.5" x2="147.5" y2="928.5" stroke="#231F20" stroke-width="1.5"/>
<text transform="translate(135.4,943.4) scale(1,1.05)" font-size="40.4" fill="#231F20" text-anchor="end" >600</text>
<line x1="141.8" y1="857.2" x2="147.5" y2="857.2" stroke="#231F20" stroke-width="1.5"/>
<text transform="translate(135.4,872.1) scale(1,1.05)" font-size="40.4" fill="#231F20" text-anchor="end" >800</text>
<line x1="141.8" y1="786.0" x2="147.5" y2="786.0" stroke="#231F20" stroke-width="1.5"/>
<text transform="translate(135.4,800.9) scale(1,1.05)" font-size="40.4" fill="#231F20" text-anchor="end" >1000</text>
<text transform="translate(31,967.5) rotate(-90)" font-size="41.5" fill="#231F20" text-anchor="middle">concentration [µM]</text>
<line x1="283.0" y1="1142.2" x2="283.0" y2="1148.2" stroke="#231F20" stroke-width="1.5"/>
<text x="283.0" y="1183" font-size="41.5" fill="#231F20" text-anchor="middle" >formaldehyde</text>
<rect x="182.8" y="1121.9" width="66.8" height="20.3" fill="#088BBB" stroke="#231F20" stroke-width="1.5"/>
<rect x="249.6" y="1078.4" width="66.8" height="63.8" fill="#088BBB" stroke="#231F20" stroke-width="1.5"/>
<rect x="316.4" y="1048.5" width="66.8" height="93.7" fill="#088BBB" stroke="#231F20" stroke-width="1.5"/>
<line x1="533.0" y1="1142.2" x2="533.0" y2="1148.2" stroke="#231F20" stroke-width="1.5"/>
<text x="533.0" y="1183" font-size="41.5" fill="#231F20" text-anchor="middle" >formate</text>
<rect x="432.8" y="1011.1" width="66.8" height="131.1" fill="#EA4970" stroke="#231F20" stroke-width="1.5"/>
<line x1="783.0" y1="1142.2" x2="783.0" y2="1148.2" stroke="#231F20" stroke-width="1.5"/>
<text x="783.0" y="1183" font-size="41.5" fill="#231F20" text-anchor="middle" >NADH</text>
<rect x="682.8" y="814.5" width="66.8" height="327.7" fill="#DDB32F" stroke="#231F20" stroke-width="1.5"/>
<rect x="749.6" y="1091.6" width="66.8" height="50.6" fill="#DDB32F" stroke="#231F20" stroke-width="1.5"/>
<rect x="816.4" y="1102.3" width="66.8" height="39.9" fill="#DDB32F" stroke="#231F20" stroke-width="1.5"/>
<!--DOTS-->
<path d="M208.5,1119.2 H223.10000000000002 M208.5,1123.9 H223.10000000000002 M215.8,1119.2 V1123.9" stroke="#231F20" stroke-width="2.8" fill="none"/>
<path d="M276.09999999999997,1073.9 H290.7 M276.09999999999997,1082.1 H290.7 M283.4,1073.9 V1082.1" stroke="#231F20" stroke-width="2.8" fill="none"/>
<path d="M342.9,1045.3 H357.5 M342.9,1052.3 H357.5 M350.2,1045.3 V1052.3" stroke="#231F20" stroke-width="2.8" fill="none"/>
<path d="M458.9,1001.1 H473.5 M458.9,1029.9 H473.5 M466.2,1001.1 V1029.9" stroke="#231F20" stroke-width="2.8" fill="none"/>
<path d="M709.0,804.7 H723.5999999999999 M709.0,822.3 H723.5999999999999 M716.3,804.7 V822.3" stroke="#231F20" stroke-width="2.8" fill="none"/>
<path d="M775.9000000000001,1090.5 H790.5 M775.9000000000001,1093.5 H790.5 M783.2,1090.5 V1093.5" stroke="#231F20" stroke-width="2.8" fill="none"/>
<path d="M843.3000000000001,1101.5 H857.9 M843.3000000000001,1104 H857.9 M850.6,1101.5 V1104" stroke="#231F20" stroke-width="2.8" fill="none"/>
<circle cx="190.7" cy="1123.9" r="5.4" fill="#231F20"/>
<circle cx="215.8" cy="1120.4" r="5.4" fill="#231F20"/>
<circle cx="240.4" cy="1120.8" r="5.4" fill="#231F20"/>
<circle cx="258" cy="1077.4" r="5.4" fill="#231F20"/>
<circle cx="283.4" cy="1076.2" r="5.4" fill="#231F20"/>
<circle cx="308" cy="1081.6" r="5.4" fill="#231F20"/>
<circle cx="325.4" cy="1045.3" r="5.4" fill="#231F20"/>
<circle cx="350.2" cy="1048.8" r="5.4" fill="#231F20"/>
<circle cx="375.6" cy="1051.8" r="5.4" fill="#231F20"/>
<circle cx="440.4" cy="1029.9" r="5.4" fill="#231F20"/>
<circle cx="465.6" cy="1002.5" r="5.4" fill="#231F20"/>
<circle cx="490.4" cy="1001" r="5.4" fill="#231F20"/>
<circle cx="690.5" cy="821.9" r="5.4" fill="#231F20"/>
<circle cx="715.9" cy="816.6" r="5.4" fill="#231F20"/>
<circle cx="740.7" cy="804.2" r="5.4" fill="#231F20"/>
<circle cx="757.8" cy="1089.6" r="5.4" fill="#231F20"/>
<circle cx="783.2" cy="1093.4" r="5.4" fill="#231F20"/>
<circle cx="808" cy="1092.4" r="5.4" fill="#231F20"/>
<circle cx="825.1" cy="1103.3" r="5.4" fill="#231F20"/>
<circle cx="850.6" cy="1102.7" r="5.4" fill="#231F20"/>
<circle cx="875.4" cy="1102.4" r="5.4" fill="#231F20"/>
<clipPath id="cc"><rect x="147.5" y="786.0" width="771.3" height="356.90000000000003"/></clipPath><g clip-path="url(#cc)">
<circle cx="507.6" cy="1141.4" r="5.4" fill="#231F20"/>
<circle cx="532.8" cy="1141.4" r="5.4" fill="#231F20"/>
<circle cx="558.2" cy="1141.4" r="5.4" fill="#231F20"/>
<circle cx="575.7" cy="1141.4" r="5.4" fill="#231F20"/>
<circle cx="601" cy="1141.4" r="5.4" fill="#231F20"/>
<circle cx="626" cy="1141.4" r="5.4" fill="#231F20"/>
</g>
<text transform="translate(222.3,1109.6) rotate(-90)" font-size="24.8" fill="#231F20">Mdh2 CT4-1 Cn</text>
<text transform="translate(289.7,1067.4) rotate(-90)" font-size="24.8" fill="#231F20">Mdh Bm MGA3</text>
<text transform="translate(355.8,1038.1) rotate(-90)" font-size="24.8" fill="#231F20">Mdh Bm MGA3 + Act</text>
<text transform="translate(472.1,992.3) rotate(-90)" font-size="24.8" fill="#231F20">Mdh2 CT4-1 Cn</text>
<text transform="translate(537.8,1131.9) rotate(-90)" font-size="24.8" fill="#231F20">Mdh Bm MGA3</text>
<text transform="translate(604.8,1131.9) rotate(-90)" font-size="24.8" fill="#231F20">Mdh Bm MGA3 + Act</text>
<text transform="translate(723.1,1010.2) rotate(-90)" font-size="24.8" fill="#231F20">Mdh2 CT4-1 Cn</text>
<text transform="translate(788.3,1081.6) rotate(-90)" font-size="24.8" fill="#231F20">Mdh Bm MGA3</text>
<text transform="translate(855.8,1092.5) rotate(-90)" font-size="24.8" fill="#231F20">Mdh Bm MGA3 + Act</text>
</svg>
</body></html>
